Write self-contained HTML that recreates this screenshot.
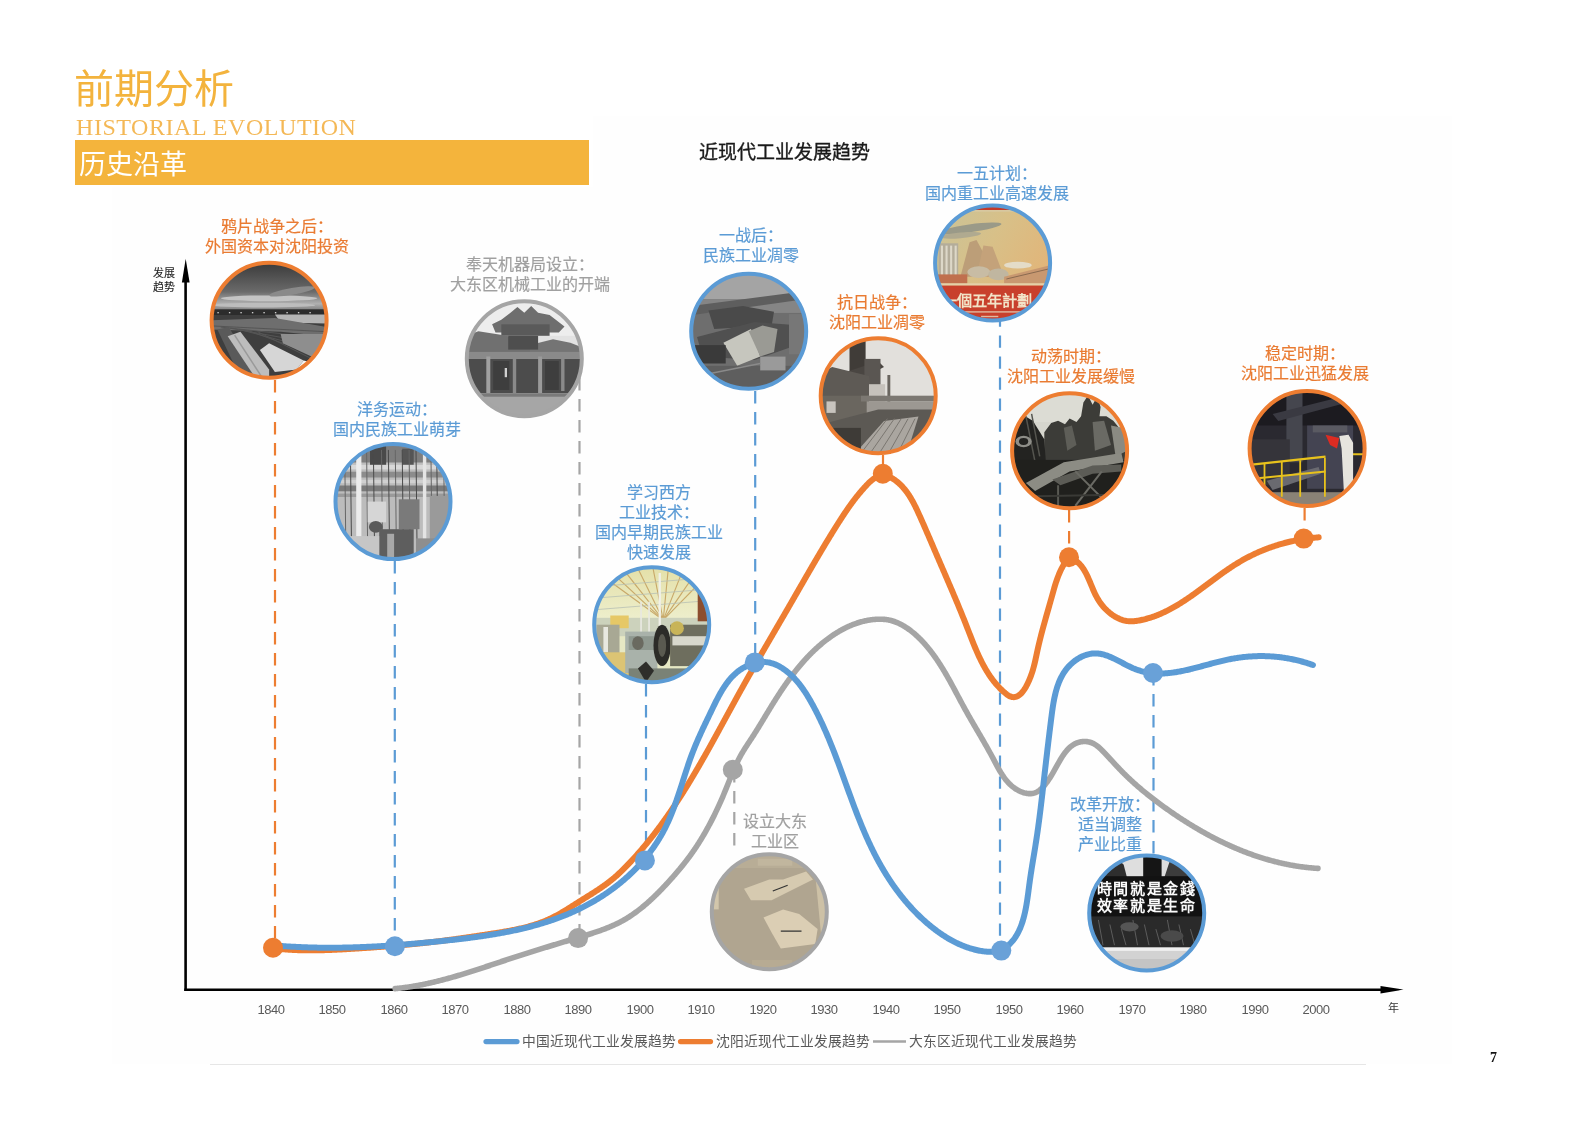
<!DOCTYPE html>
<html lang="zh-CN"><head><meta charset="utf-8"><title>历史沿革</title>
<style>
html,body{margin:0;padding:0;background:#fff;}
body{width:1587px;height:1122px;position:relative;overflow:hidden;font-family:"Liberation Sans",sans-serif;}
.a{position:absolute;white-space:nowrap;will-change:transform;}
svg text{font-family:"Liberation Sans",sans-serif;}
.lbl{position:absolute;will-change:transform;white-space:nowrap;font-size:16px;-webkit-text-stroke:0.2px currentColor;line-height:20px;text-align:center;width:240px;}
.yr{position:absolute;will-change:transform;top:999.5px;width:40px;text-align:center;font-size:13px;letter-spacing:-0.45px;color:#595959;line-height:20px;}
</style></head><body>

<div class="a" style="left:593px;top:116px;width:859px;height:948px;background:#fefefe"></div><div class="a" style="left:112px;top:187px;width:481px;height:877px;background:#fefefe"></div>
<div class="a" style="left:74.3px;top:62px;font-size:40px;line-height:54px;color:#F3B33D;font-weight:300;">前期分析</div>
<div class="a" style="left:75.5px;top:112.5px;font-family:'Liberation Serif',serif;font-size:24px;letter-spacing:0.55px;line-height:28px;color:#F4B856;">HISTORIAL EVOLUTION</div>
<div class="a" style="left:75px;top:140px;width:514px;height:45px;background:#F4B43C;"></div>
<div class="a" style="left:79.3px;top:147px;font-size:27px;line-height:36px;color:#fff;font-weight:300;">历史沿革</div>
<div class="a" style="left:699px;top:140px;font-size:19px;line-height:26px;color:#1a1a1a;-webkit-text-stroke:0.35px #1a1a1a;">近现代工业发展趋势</div>
<svg class="a" style="left:0;top:0" width="1587" height="1122" viewBox="0 0 1587 1122">
<defs>
<linearGradient id="g_rail_sky" x1="0" y1="0" x2="0" y2="1"><stop offset="0" stop-color="#3a3a3a"/><stop offset="0.6" stop-color="#6a6a6a"/><stop offset="0.85" stop-color="#b0b0b0"/><stop offset="1" stop-color="#777"/></linearGradient>
<linearGradient id="g_color_top" x1="0" y1="0" x2="0" y2="1"><stop offset="0" stop-color="#e4e0a8"/><stop offset="1" stop-color="#eef0d0"/></linearGradient>
<linearGradient id="g_poster_sky" x1="0" y1="0" x2="1" y2="0.6"><stop offset="0" stop-color="#c8c49a"/><stop offset="0.5" stop-color="#d8c088"/><stop offset="1" stop-color="#e2b478"/></linearGradient>
<clipPath id="cp0"><circle cx="269.1" cy="320.2" r="57.5"/></clipPath>
<clipPath id="cp1"><circle cx="393.0" cy="501.6" r="57.5"/></clipPath>
<clipPath id="cp2"><circle cx="524.3" cy="358.8" r="57.5"/></clipPath>
<clipPath id="cp3"><circle cx="651.7" cy="624.7" r="57.5"/></clipPath>
<clipPath id="cp4"><circle cx="748.7" cy="331.3" r="57.5"/></clipPath>
<clipPath id="cp5"><circle cx="769.3" cy="911.7" r="57.5"/></clipPath>
<clipPath id="cp6"><circle cx="878.2" cy="395.7" r="57.5"/></clipPath>
<clipPath id="cp7"><circle cx="992.6" cy="262.9" r="57.5"/></clipPath>
<clipPath id="cp8"><circle cx="1069.6" cy="450.7" r="57.5"/></clipPath>
<clipPath id="cp9"><circle cx="1146.7" cy="913.0" r="57.5"/></clipPath>
<clipPath id="cp10"><circle cx="1307.1" cy="448.5" r="57.5"/></clipPath>
</defs>
<line x1="185.6" y1="280" x2="185.6" y2="991" stroke="#000" stroke-width="2.6"/>
<polygon points="185.7,258.8 189.6,282.5 181.9,282.5" fill="#000"/>
<line x1="184.3" y1="989.8" x2="1385" y2="989.8" stroke="#000" stroke-width="2.5"/>
<polygon points="1403.5,989.6 1380.5,985.9 1380.5,993.6" fill="#000"/>
<line x1="275.0" y1="380.0" x2="275.0" y2="946.0" stroke="#ED7D31" stroke-width="2.2" stroke-dasharray="12.4 8.6"/>
<line x1="394.8" y1="561.0" x2="394.8" y2="946.0" stroke="#5B9BD5" stroke-width="2.2" stroke-dasharray="12.4 8.6"/>
<line x1="579.5" y1="378.0" x2="579.5" y2="938.0" stroke="#A5A5A5" stroke-width="2.2" stroke-dasharray="12.4 8.6"/>
<line x1="646.0" y1="684.0" x2="646.0" y2="860.0" stroke="#5B9BD5" stroke-width="2.2" stroke-dasharray="12.4 8.6"/>
<line x1="755.2" y1="391.0" x2="755.2" y2="662.0" stroke="#5B9BD5" stroke-width="2.2" stroke-dasharray="12.4 8.6"/>
<line x1="734.3" y1="770.0" x2="734.3" y2="853.0" stroke="#A5A5A5" stroke-width="2.2" stroke-dasharray="12.4 8.6"/>
<line x1="883.0" y1="455.0" x2="883.0" y2="474.0" stroke="#ED7D31" stroke-width="2.2" stroke-dasharray="12.4 8.6"/>
<line x1="1000.0" y1="314.4" x2="1000.0" y2="951.0" stroke="#5B9BD5" stroke-width="2.2" stroke-dasharray="12.4 8.6"/>
<line x1="1069.1" y1="510.0" x2="1069.1" y2="557.0" stroke="#ED7D31" stroke-width="2.2" stroke-dasharray="12.4 8.6"/>
<line x1="1153.5" y1="673.0" x2="1153.5" y2="854.0" stroke="#5B9BD5" stroke-width="2.2" stroke-dasharray="12.4 8.6"/>
<line x1="1304.6" y1="508.0" x2="1304.6" y2="539.0" stroke="#ED7D31" stroke-width="2.2" stroke-dasharray="12.4 8.6"/>
<path d="M395.07,988.64 L395.90,988.56 L396.73,988.48 L397.55,988.39 L398.38,988.31 L399.21,988.22 L400.03,988.12 L400.86,988.03 L401.68,987.93 L402.51,987.83 L403.33,987.72 L404.16,987.62 L404.98,987.51 L405.80,987.39 L406.62,987.28 L407.44,987.16 L408.26,987.04 L409.08,986.92 L409.90,986.79 L410.72,986.67 L411.54,986.54 L412.35,986.40 L413.17,986.27 L413.99,986.13 L414.80,985.99 L415.62,985.85 L416.43,985.71 L417.25,985.56 L418.06,985.41 L418.87,985.26 L419.68,985.10 L420.50,984.95 L421.31,984.79 L422.12,984.63 L422.93,984.47 L423.74,984.30 L424.55,984.14 L425.36,983.97 L426.17,983.80 L426.97,983.62 L427.78,983.45 L428.59,983.27 L429.40,983.09 L430.20,982.91 L431.01,982.73 L431.81,982.55 L432.62,982.36 L433.42,982.17 L434.23,981.98 L435.03,981.79 L435.83,981.60 L436.64,981.40 L437.44,981.20 L438.24,981.00 L439.04,980.80 L439.84,980.60 L440.64,980.40 L441.44,980.19 L442.24,979.98 L443.04,979.77 L443.84,979.56 L444.64,979.35 L445.44,979.14 L446.24,978.92 L447.04,978.71 L447.83,978.49 L448.63,978.27 L449.43,978.05 L450.22,977.83 L451.02,977.60 L451.82,977.38 L452.61,977.15 L453.41,976.92 L454.20,976.70 L455.00,976.47 L455.79,976.23 L456.58,976.00 L457.38,975.77 L458.17,975.53 L458.96,975.30 L459.76,975.06 L460.55,974.82 L461.34,974.58 L462.13,974.34 L462.93,974.10 L463.72,973.86 L464.51,973.62 L465.30,973.37 L466.09,973.13 L466.88,972.88 L467.67,972.64 L468.46,972.39 L469.25,972.14 L470.04,971.89 L470.83,971.64 L471.62,971.39 L472.41,971.14 L473.20,970.89 L473.99,970.63 L474.78,970.38 L475.56,970.13 L476.35,969.87 L477.14,969.62 L477.93,969.36 L478.72,969.10 L479.50,968.85 L480.29,968.59 L481.08,968.33 L481.87,968.07 L482.65,967.81 L483.44,967.55 L484.23,967.30 L485.01,967.04 L485.80,966.77 L486.59,966.51 L487.37,966.25 L488.16,965.99 L488.94,965.73 L489.73,965.47 L490.52,965.21 L491.30,964.94 L492.09,964.68 L492.87,964.42 L493.66,964.16 L494.45,963.89 L495.23,963.63 L496.02,963.37 L496.80,963.11 L497.59,962.84 L498.37,962.58 L499.16,962.32 L499.94,962.06 L500.73,961.79 L501.51,961.53 L502.30,961.27 L503.08,961.01 L503.87,960.74 L504.66,960.48 L505.44,960.22 L506.23,959.96 L507.01,959.70 L507.80,959.44 L508.58,959.18 L509.37,958.92 L510.15,958.66 L510.94,958.40 L511.72,958.14 L512.51,957.88 L513.30,957.62 L514.08,957.37 L514.87,957.11 L515.65,956.85 L516.44,956.60 L517.22,956.34 L518.01,956.09 L518.80,955.83 L519.58,955.58 L520.37,955.33 L521.16,955.07 L521.94,954.82 L522.73,954.57 L523.52,954.32 L524.30,954.07 L525.09,953.82 L525.88,953.57 L526.66,953.32 L527.45,953.07 L528.24,952.82 L529.02,952.57 L529.81,952.32 L530.60,952.08 L531.39,951.83 L532.17,951.58 L532.96,951.34 L533.75,951.09 L534.54,950.84 L535.33,950.60 L536.11,950.35 L536.90,950.11 L537.69,949.87 L538.48,949.62 L539.27,949.38 L540.06,949.14 L540.85,948.89 L541.64,948.65 L542.42,948.41 L543.21,948.17 L544.00,947.92 L544.79,947.68 L545.58,947.44 L546.37,947.20 L547.16,946.96 L547.95,946.72 L548.74,946.48 L549.53,946.24 L550.32,946.00 L551.11,945.76 L551.90,945.52 L552.70,945.28 L553.49,945.04 L554.28,944.80 L555.07,944.56 L555.86,944.32 L556.65,944.08 L557.44,943.84 L558.24,943.60 L559.03,943.36 L559.82,943.12 L560.61,942.89 L561.40,942.65 L562.20,942.41 L562.99,942.17 L563.78,941.93 L564.58,941.69 L565.37,941.45 L566.16,941.22 L566.96,940.98 L567.75,940.74 L568.54,940.50 L569.34,940.26 L570.13,940.02 L570.93,939.79 L571.72,939.55 L572.52,939.31 L573.31,939.07 L574.11,938.83 L574.90,938.59 L575.70,938.35 L576.49,938.11 L577.29,937.88 L578.08,937.64 L578.88,937.40 L579.68,937.16 L580.47,936.92 L581.27,936.68 L582.06,936.44 L582.86,936.20 L583.66,935.95 L584.45,935.71 L585.25,935.47 L586.04,935.22 L586.84,934.98 L587.63,934.73 L588.43,934.48 L589.22,934.23 L590.01,933.98 L590.81,933.73 L591.60,933.47 L592.39,933.22 L593.18,932.96 L593.97,932.70 L594.76,932.44 L595.54,932.18 L596.33,931.91 L597.12,931.65 L597.90,931.38 L598.68,931.10 L599.47,930.83 L600.25,930.55 L601.03,930.27 L601.80,929.99 L602.58,929.70 L603.36,929.42 L604.13,929.12 L604.90,928.83 L605.67,928.53 L606.44,928.23 L607.21,927.93 L607.98,927.62 L608.74,927.31 L609.50,926.99 L610.26,926.67 L611.02,926.35 L611.77,926.02 L612.53,925.69 L613.28,925.36 L614.03,925.02 L614.78,924.68 L615.52,924.33 L616.26,923.98 L617.00,923.62 L617.74,923.26 L618.48,922.89 L619.21,922.52 L619.94,922.15 L620.67,921.77 L621.39,921.38 L622.11,920.99 L622.83,920.59 L623.55,920.19 L624.26,919.79 L624.97,919.37 L625.68,918.96 L626.39,918.53 L627.09,918.11 L627.79,917.67 L628.49,917.24 L629.18,916.80 L629.87,916.35 L630.56,915.90 L631.25,915.44 L631.93,914.98 L632.61,914.52 L633.29,914.05 L633.96,913.57 L634.64,913.10 L635.31,912.61 L635.97,912.13 L636.64,911.64 L637.30,911.14 L637.96,910.64 L638.62,910.14 L639.28,909.64 L639.93,909.13 L640.58,908.61 L641.23,908.09 L641.87,907.57 L642.52,907.05 L643.16,906.52 L643.80,905.99 L644.43,905.46 L645.07,904.92 L645.70,904.38 L646.33,903.84 L646.96,903.29 L647.58,902.74 L648.21,902.19 L648.83,901.63 L649.45,901.07 L650.06,900.51 L650.68,899.95 L651.29,899.38 L651.90,898.81 L652.51,898.24 L653.11,897.67 L653.72,897.09 L654.32,896.52 L654.92,895.94 L655.52,895.36 L656.11,894.77 L656.71,894.19 L657.30,893.60 L657.89,893.01 L658.48,892.42 L659.07,891.82 L659.65,891.23 L660.23,890.63 L660.81,890.03 L661.39,889.44 L661.97,888.83 L662.55,888.23 L663.12,887.63 L663.69,887.03 L664.26,886.42 L664.83,885.81 L665.40,885.21 L665.97,884.60 L666.53,883.99 L667.09,883.38 L667.65,882.77 L668.21,882.16 L668.77,881.55 L669.33,880.93 L669.88,880.32 L670.43,879.71 L670.99,879.09 L671.54,878.48 L672.08,877.86 L672.63,877.25 L673.17,876.63 L673.72,876.01 L674.26,875.39 L674.80,874.78 L675.34,874.16 L675.87,873.53 L676.41,872.91 L676.94,872.29 L677.47,871.67 L678.00,871.04 L678.53,870.42 L679.06,869.79 L679.58,869.16 L680.10,868.53 L680.62,867.90 L681.14,867.27 L681.66,866.64 L682.17,866.00 L682.69,865.36 L683.20,864.73 L683.71,864.09 L684.21,863.45 L684.72,862.81 L685.22,862.16 L685.73,861.52 L686.22,860.87 L686.72,860.23 L687.22,859.58 L687.71,858.93 L688.20,858.27 L688.69,857.62 L689.18,856.96 L689.67,856.30 L690.15,855.64 L690.63,854.98 L691.11,854.32 L691.59,853.65 L692.06,852.98 L692.53,852.31 L693.00,851.64 L693.47,850.97 L693.94,850.29 L694.40,849.61 L694.86,848.93 L695.32,848.25 L695.78,847.57 L696.24,846.88 L696.69,846.19 L697.14,845.50 L697.59,844.81 L698.04,844.12 L698.48,843.42 L698.93,842.73 L699.37,842.03 L699.81,841.33 L700.24,840.62 L700.68,839.92 L701.11,839.22 L701.54,838.51 L701.97,837.80 L702.40,837.09 L702.82,836.38 L703.24,835.66 L703.66,834.95 L704.08,834.23 L704.50,833.51 L704.91,832.79 L705.33,832.07 L705.74,831.35 L706.15,830.62 L706.55,829.90 L706.96,829.17 L707.36,828.45 L707.76,827.72 L708.16,826.99 L708.56,826.25 L708.95,825.52 L709.34,824.79 L709.74,824.05 L710.13,823.32 L710.51,822.58 L710.90,821.84 L711.28,821.10 L711.66,820.36 L712.04,819.62 L712.42,818.88 L712.80,818.13 L713.17,817.39 L713.55,816.64 L713.92,815.90 L714.29,815.15 L714.65,814.40 L715.02,813.65 L715.38,812.90 L715.74,812.15 L716.10,811.40 L716.46,810.65 L716.82,809.90 L717.17,809.14 L717.53,808.39 L717.88,807.63 L718.23,806.88 L718.58,806.12 L718.92,805.37 L719.27,804.61 L719.61,803.85 L719.95,803.10 L720.29,802.34 L720.63,801.58 L720.96,800.82 L721.30,800.06 L721.63,799.30 L721.96,798.54 L722.29,797.78 L722.62,797.02 L722.95,796.26 L723.27,795.50 L723.59,794.74 L723.91,793.97 L724.23,793.21 L724.55,792.45 L724.87,791.69 L725.18,790.93 L725.50,790.16 L725.81,789.40 L726.12,788.64 L726.43,787.88 L726.74,787.12 L727.04,786.35 L727.35,785.59 L727.66,784.83 L727.96,784.07 L728.27,783.31 L728.57,782.55 L728.88,781.79 L729.18,781.03 L729.49,780.27 L729.79,779.51 L730.10,778.75 L730.41,777.99 L730.71,777.23 L731.02,776.48 L731.33,775.72 L731.64,774.96 L731.95,774.21 L732.27,773.45 L732.58,772.70 L732.90,771.95 L733.22,771.20 L733.54,770.45 L733.87,769.70 L734.19,768.95 L734.52,768.20 L734.85,767.45 L735.19,766.70 L735.53,765.96 L735.87,765.22 L736.21,764.47 L736.56,763.73 L736.91,762.99 L737.26,762.25 L737.62,761.52 L737.99,760.78 L738.35,760.04 L738.72,759.31 L739.10,758.58 L739.48,757.85 L739.87,757.12 L740.26,756.39 L740.65,755.67 L741.05,754.94 L741.46,754.22 L741.87,753.50 L742.29,752.78 L742.71,752.07 L743.14,751.35 L743.57,750.64 L744.01,749.93 L744.45,749.22 L744.90,748.51 L745.35,747.80 L745.80,747.09 L746.25,746.39 L746.71,745.68 L747.17,744.98 L747.63,744.27 L748.09,743.57 L748.56,742.87 L749.02,742.17 L749.48,741.47 L749.95,740.77 L750.41,740.07 L750.87,739.37 L751.33,738.67 L751.79,737.97 L752.25,737.27 L752.70,736.57 L753.15,735.87 L753.60,735.17 L754.05,734.47 L754.50,733.77 L754.94,733.08 L755.38,732.38 L755.82,731.68 L756.26,730.98 L756.70,730.28 L757.14,729.58 L757.57,728.88 L758.00,728.18 L758.44,727.48 L758.87,726.78 L759.30,726.08 L759.73,725.38 L760.15,724.68 L760.58,723.98 L761.01,723.28 L761.43,722.58 L761.86,721.88 L762.28,721.18 L762.71,720.48 L763.13,719.78 L763.55,719.08 L763.98,718.38 L764.40,717.68 L764.82,716.98 L765.24,716.28 L765.67,715.58 L766.09,714.88 L766.51,714.18 L766.93,713.48 L767.36,712.78 L767.78,712.08 L768.20,711.38 L768.63,710.68 L769.05,709.98 L769.48,709.28 L769.90,708.58 L770.33,707.88 L770.76,707.18 L771.19,706.48 L771.62,705.78 L772.05,705.08 L772.48,704.38 L772.92,703.68 L773.35,702.98 L773.79,702.29 L774.23,701.59 L774.67,700.89 L775.11,700.19 L775.55,699.49 L775.99,698.79 L776.44,698.09 L776.88,697.40 L777.33,696.70 L777.78,696.00 L778.23,695.31 L778.69,694.61 L779.14,693.91 L779.60,693.22 L780.05,692.53 L780.51,691.83 L780.97,691.14 L781.44,690.45 L781.90,689.76 L782.37,689.07 L782.83,688.38 L783.30,687.69 L783.77,687.00 L784.25,686.31 L784.72,685.63 L785.20,684.94 L785.67,684.26 L786.15,683.58 L786.64,682.89 L787.12,682.21 L787.60,681.54 L788.09,680.86 L788.58,680.18 L789.07,679.51 L789.56,678.83 L790.06,678.16 L790.56,677.49 L791.06,676.82 L791.56,676.15 L792.06,675.49 L792.56,674.82 L793.07,674.16 L793.58,673.50 L794.09,672.84 L794.60,672.18 L795.12,671.52 L795.63,670.87 L796.15,670.22 L796.68,669.57 L797.20,668.92 L797.72,668.27 L798.25,667.63 L798.78,666.99 L799.31,666.35 L799.85,665.71 L800.39,665.07 L800.92,664.44 L801.47,663.81 L802.01,663.18 L802.56,662.55 L803.10,661.93 L803.65,661.31 L804.21,660.69 L804.76,660.07 L805.32,659.46 L805.88,658.85 L806.44,658.24 L807.01,657.63 L807.57,657.03 L808.14,656.43 L808.72,655.83 L809.29,655.24 L809.87,654.64 L810.45,654.06 L811.03,653.47 L811.61,652.89 L812.20,652.31 L812.79,651.73 L813.38,651.15 L813.98,650.58 L814.58,650.02 L815.18,649.45 L815.78,648.89 L816.39,648.33 L816.99,647.78 L817.61,647.23 L818.22,646.68 L818.84,646.13 L819.45,645.59 L820.08,645.05 L820.70,644.52 L821.33,643.99 L821.96,643.46 L822.59,642.94 L823.23,642.42 L823.87,641.91 L824.51,641.39 L825.15,640.89 L825.80,640.38 L826.45,639.88 L827.11,639.39 L827.76,638.89 L828.42,638.40 L829.08,637.92 L829.75,637.44 L830.42,636.97 L831.09,636.49 L831.76,636.03 L832.44,635.56 L833.12,635.10 L833.81,634.65 L834.49,634.20 L835.18,633.75 L835.87,633.31 L836.57,632.88 L837.27,632.45 L837.97,632.02 L838.68,631.60 L839.39,631.18 L840.10,630.77 L840.81,630.37 L841.53,629.97 L842.25,629.58 L842.97,629.19 L843.70,628.80 L844.43,628.43 L845.16,628.06 L845.90,627.69 L846.64,627.33 L847.38,626.98 L848.12,626.64 L848.87,626.30 L849.62,625.96 L850.38,625.64 L851.14,625.32 L851.90,625.00 L852.66,624.70 L853.43,624.40 L854.20,624.11 L854.97,623.82 L855.75,623.55 L856.52,623.28 L857.31,623.01 L858.09,622.76 L858.88,622.51 L859.67,622.27 L860.47,622.04 L861.26,621.82 L862.06,621.61 L862.87,621.40 L863.68,621.20 L864.49,621.01 L865.30,620.83 L866.11,620.66 L866.93,620.49 L867.76,620.34 L868.58,620.19 L869.41,620.05 L870.24,619.92 L871.08,619.80 L871.91,619.69 L872.75,619.59 L873.59,619.50 L874.44,619.42 L875.28,619.36 L876.13,619.30 L876.97,619.25 L877.82,619.22 L878.66,619.20 L879.51,619.19 L880.35,619.19 L881.19,619.21 L882.04,619.23 L882.87,619.28 L883.71,619.33 L884.54,619.41 L885.37,619.49 L886.20,619.59 L887.02,619.71 L887.83,619.84 L888.65,619.99 L889.45,620.15 L890.25,620.33 L891.05,620.53 L891.84,620.74 L892.62,620.97 L893.40,621.21 L894.18,621.47 L894.94,621.74 L895.71,622.03 L896.46,622.33 L897.22,622.64 L897.96,622.97 L898.70,623.30 L899.44,623.65 L900.17,624.02 L900.90,624.39 L901.62,624.77 L902.33,625.17 L903.04,625.57 L903.75,625.99 L904.45,626.41 L905.15,626.84 L905.84,627.29 L906.52,627.74 L907.21,628.20 L907.88,628.66 L908.55,629.14 L909.22,629.62 L909.88,630.10 L910.54,630.60 L911.19,631.10 L911.84,631.61 L912.48,632.12 L913.12,632.64 L913.76,633.17 L914.39,633.71 L915.01,634.24 L915.63,634.79 L916.25,635.34 L916.86,635.90 L917.47,636.46 L918.07,637.03 L918.67,637.60 L919.26,638.18 L919.85,638.76 L920.44,639.35 L921.02,639.94 L921.60,640.54 L922.17,641.14 L922.74,641.74 L923.30,642.35 L923.86,642.97 L924.42,643.58 L924.97,644.21 L925.52,644.83 L926.06,645.46 L926.60,646.09 L927.14,646.73 L927.67,647.36 L928.20,648.01 L928.72,648.65 L929.24,649.30 L929.76,649.95 L930.27,650.60 L930.78,651.25 L931.29,651.91 L931.79,652.57 L932.28,653.23 L932.78,653.90 L933.27,654.56 L933.76,655.23 L934.24,655.90 L934.72,656.58 L935.20,657.25 L935.67,657.93 L936.15,658.61 L936.61,659.29 L937.08,659.97 L937.54,660.66 L938.00,661.34 L938.46,662.03 L938.91,662.72 L939.36,663.42 L939.81,664.11 L940.26,664.81 L940.70,665.50 L941.14,666.20 L941.58,666.90 L942.01,667.61 L942.45,668.31 L942.88,669.02 L943.31,669.72 L943.74,670.43 L944.16,671.14 L944.58,671.85 L945.01,672.56 L945.42,673.27 L945.84,673.99 L946.26,674.70 L946.67,675.42 L947.08,676.14 L947.49,676.85 L947.90,677.57 L948.31,678.29 L948.72,679.01 L949.12,679.74 L949.52,680.46 L949.93,681.18 L950.33,681.91 L950.73,682.63 L951.12,683.36 L951.52,684.08 L951.92,684.81 L952.31,685.54 L952.71,686.26 L953.10,686.99 L953.50,687.72 L953.89,688.45 L954.28,689.18 L954.67,689.91 L955.06,690.64 L955.45,691.37 L955.84,692.10 L956.23,692.83 L956.62,693.56 L957.01,694.29 L957.40,695.02 L957.79,695.75 L958.18,696.48 L958.57,697.21 L958.96,697.94 L959.35,698.67 L959.74,699.39 L960.12,700.12 L960.51,700.85 L960.90,701.58 L961.30,702.31 L961.69,703.04 L962.08,703.76 L962.47,704.49 L962.86,705.21 L963.26,705.94 L963.65,706.66 L964.05,707.39 L964.44,708.11 L964.84,708.83 L965.24,709.55 L965.64,710.28 L966.04,710.99 L966.44,711.71 L966.84,712.43 L967.24,713.15 L967.65,713.87 L968.05,714.58 L968.46,715.30 L968.86,716.01 L969.27,716.73 L969.68,717.44 L970.09,718.15 L970.50,718.87 L970.91,719.58 L971.32,720.29 L971.73,721.00 L972.14,721.72 L972.55,722.43 L972.97,723.14 L973.38,723.85 L973.79,724.56 L974.21,725.27 L974.62,725.98 L975.04,726.69 L975.45,727.40 L975.87,728.11 L976.28,728.82 L976.70,729.53 L977.11,730.24 L977.53,730.95 L977.94,731.66 L978.36,732.38 L978.78,733.09 L979.19,733.80 L979.61,734.51 L980.02,735.22 L980.44,735.94 L980.85,736.65 L981.27,737.36 L981.68,738.08 L982.10,738.79 L982.51,739.51 L982.93,740.22 L983.34,740.94 L983.75,741.65 L984.17,742.37 L984.58,743.09 L984.99,743.81 L985.40,744.53 L985.81,745.25 L986.22,745.97 L986.63,746.70 L987.04,747.42 L987.45,748.14 L987.86,748.87 L988.26,749.60 L988.67,750.32 L989.08,751.05 L989.48,751.78 L989.88,752.51 L990.28,753.25 L990.69,753.98 L991.09,754.72 L991.49,755.45 L991.88,756.19 L992.28,756.93 L992.68,757.67 L993.07,758.41 L993.47,759.16 L993.86,759.90 L994.25,760.65 L994.64,761.39 L995.03,762.14 L995.43,762.89 L995.82,763.63 L996.22,764.38 L996.61,765.12 L997.01,765.86 L997.41,766.60 L997.81,767.34 L998.22,768.08 L998.63,768.81 L999.04,769.54 L999.46,770.27 L999.88,770.99 L1000.31,771.71 L1000.74,772.42 L1001.17,773.13 L1001.62,773.84 L1002.07,774.54 L1002.52,775.23 L1002.98,775.92 L1003.45,776.60 L1003.93,777.27 L1004.41,777.94 L1004.91,778.59 L1005.41,779.25 L1005.92,779.89 L1006.44,780.52 L1006.97,781.15 L1007.51,781.77 L1008.05,782.37 L1008.61,782.97 L1009.19,783.56 L1009.77,784.13 L1010.36,784.70 L1010.97,785.25 L1011.59,785.80 L1012.22,786.33 L1012.87,786.85 L1013.52,787.35 L1014.20,787.85 L1014.88,788.33 L1015.58,788.79 L1016.30,789.25 L1017.02,789.68 L1017.76,790.10 L1018.50,790.50 L1019.26,790.88 L1020.02,791.24 L1020.79,791.58 L1021.57,791.90 L1022.35,792.20 L1023.13,792.47 L1023.92,792.71 L1024.71,792.93 L1025.50,793.12 L1026.30,793.28 L1027.09,793.42 L1027.88,793.52 L1028.66,793.59 L1029.45,793.63 L1030.23,793.63 L1031.00,793.60 L1031.77,793.54 L1032.53,793.43 L1033.28,793.29 L1034.02,793.12 L1034.75,792.90 L1035.47,792.64 L1036.18,792.33 L1036.87,791.99 L1037.56,791.61 L1038.23,791.19 L1038.88,790.74 L1039.53,790.26 L1040.17,789.75 L1040.79,789.22 L1041.40,788.66 L1042.00,788.08 L1042.59,787.47 L1043.17,786.86 L1043.73,786.22 L1044.29,785.58 L1044.83,784.92 L1045.37,784.26 L1045.89,783.59 L1046.40,782.92 L1046.90,782.24 L1047.40,781.57 L1047.88,780.89 L1048.36,780.20 L1048.83,779.51 L1049.29,778.82 L1049.74,778.13 L1050.19,777.43 L1050.63,776.73 L1051.07,776.02 L1051.50,775.31 L1051.93,774.60 L1052.36,773.88 L1052.78,773.15 L1053.20,772.43 L1053.62,771.69 L1054.04,770.96 L1054.46,770.21 L1054.87,769.47 L1055.29,768.72 L1055.71,767.96 L1056.13,767.20 L1056.55,766.43 L1056.97,765.66 L1057.40,764.89 L1057.83,764.12 L1058.26,763.35 L1058.70,762.58 L1059.14,761.81 L1059.58,761.04 L1060.03,760.27 L1060.48,759.51 L1060.93,758.76 L1061.40,758.01 L1061.86,757.26 L1062.34,756.53 L1062.82,755.80 L1063.30,755.08 L1063.80,754.37 L1064.30,753.67 L1064.80,752.98 L1065.32,752.30 L1065.84,751.64 L1066.38,750.99 L1066.92,750.35 L1067.47,749.73 L1068.03,749.13 L1068.60,748.55 L1069.18,747.98 L1069.77,747.43 L1070.37,746.90 L1070.99,746.39 L1071.61,745.91 L1072.25,745.44 L1072.90,745.00 L1073.56,744.58 L1074.23,744.19 L1074.92,743.82 L1075.62,743.48 L1076.33,743.16 L1077.05,742.88 L1077.78,742.61 L1078.52,742.38 L1079.27,742.17 L1080.02,741.99 L1080.78,741.84 L1081.55,741.71 L1082.32,741.61 L1083.09,741.55 L1083.86,741.51 L1084.64,741.50 L1085.42,741.51 L1086.19,741.56 L1086.97,741.64 L1087.74,741.75 L1088.51,741.88 L1089.27,742.05 L1090.03,742.25 L1090.79,742.48 L1091.53,742.74 L1092.27,743.03 L1093.00,743.35 L1093.72,743.71 L1094.43,744.10 L1095.13,744.51 L1095.81,744.96 L1096.49,745.43 L1097.16,745.93 L1097.82,746.45 L1098.47,746.99 L1099.11,747.55 L1099.74,748.13 L1100.37,748.71 L1100.99,749.31 L1101.61,749.92 L1102.22,750.54 L1102.83,751.15 L1103.43,751.78 L1104.03,752.40 L1104.63,753.02 L1105.22,753.64 L1105.81,754.27 L1106.39,754.89 L1106.98,755.51 L1107.56,756.13 L1108.14,756.75 L1108.71,757.37 L1109.29,757.99 L1109.86,758.61 L1110.43,759.23 L1111.00,759.85 L1111.57,760.47 L1112.14,761.09 L1112.71,761.70 L1113.27,762.32 L1113.84,762.93 L1114.40,763.55 L1114.97,764.16 L1115.53,764.77 L1116.10,765.38 L1116.67,765.99 L1117.23,766.59 L1117.80,767.20 L1118.37,767.80 L1118.94,768.40 L1119.51,769.00 L1120.08,769.59 L1120.65,770.19 L1121.23,770.78 L1121.80,771.37 L1122.38,771.96 L1122.96,772.55 L1123.54,773.13 L1124.13,773.71 L1124.71,774.29 L1125.30,774.87 L1125.89,775.45 L1126.48,776.02 L1127.08,776.60 L1127.67,777.17 L1128.27,777.73 L1128.86,778.30 L1129.46,778.87 L1130.07,779.43 L1130.67,779.99 L1131.27,780.55 L1131.88,781.10 L1132.49,781.66 L1133.10,782.21 L1133.71,782.76 L1134.32,783.31 L1134.94,783.86 L1135.55,784.41 L1136.17,784.95 L1136.79,785.50 L1137.41,786.04 L1138.03,786.58 L1138.65,787.11 L1139.28,787.65 L1139.90,788.18 L1140.53,788.72 L1141.16,789.25 L1141.79,789.78 L1142.42,790.30 L1143.06,790.83 L1143.69,791.36 L1144.33,791.88 L1144.96,792.40 L1145.60,792.92 L1146.24,793.44 L1146.88,793.96 L1147.53,794.47 L1148.17,794.99 L1148.82,795.50 L1149.46,796.01 L1150.11,796.52 L1150.76,797.03 L1151.41,797.54 L1152.06,798.04 L1152.71,798.55 L1153.37,799.05 L1154.02,799.55 L1154.68,800.05 L1155.33,800.55 L1155.99,801.05 L1156.65,801.55 L1157.31,802.04 L1157.97,802.54 L1158.63,803.03 L1159.30,803.52 L1159.96,804.01 L1160.63,804.50 L1161.29,804.99 L1161.96,805.48 L1162.63,805.97 L1163.30,806.45 L1163.97,806.94 L1164.64,807.42 L1165.31,807.90 L1165.99,808.38 L1166.66,808.86 L1167.34,809.34 L1168.01,809.82 L1168.69,810.29 L1169.37,810.77 L1170.05,811.24 L1170.73,811.72 L1171.41,812.19 L1172.09,812.66 L1172.77,813.13 L1173.45,813.60 L1174.14,814.06 L1174.82,814.53 L1175.51,814.99 L1176.20,815.46 L1176.89,815.92 L1177.58,816.38 L1178.27,816.84 L1178.96,817.29 L1179.65,817.75 L1180.34,818.21 L1181.03,818.66 L1181.73,819.11 L1182.42,819.56 L1183.12,820.01 L1183.82,820.46 L1184.52,820.91 L1185.22,821.36 L1185.92,821.80 L1186.62,822.24 L1187.32,822.68 L1188.02,823.12 L1188.73,823.56 L1189.43,824.00 L1190.14,824.43 L1190.84,824.87 L1191.55,825.30 L1192.26,825.73 L1192.97,826.16 L1193.68,826.59 L1194.39,827.02 L1195.10,827.44 L1195.81,827.87 L1196.53,828.29 L1197.24,828.71 L1197.96,829.13 L1198.67,829.54 L1199.39,829.96 L1200.11,830.37 L1200.83,830.79 L1201.55,831.20 L1202.27,831.61 L1202.99,832.01 L1203.71,832.42 L1204.44,832.82 L1205.16,833.23 L1205.89,833.63 L1206.61,834.03 L1207.34,834.42 L1208.07,834.82 L1208.79,835.21 L1209.52,835.60 L1210.25,836.00 L1210.99,836.38 L1211.72,836.77 L1212.45,837.16 L1213.18,837.54 L1213.92,837.92 L1214.65,838.30 L1215.39,838.68 L1216.13,839.05 L1216.87,839.43 L1217.61,839.80 L1218.34,840.17 L1219.09,840.54 L1219.83,840.91 L1220.57,841.27 L1221.31,841.63 L1222.06,841.99 L1222.80,842.35 L1223.55,842.71 L1224.29,843.07 L1225.04,843.42 L1225.79,843.77 L1226.54,844.12 L1227.29,844.47 L1228.04,844.81 L1228.79,845.15 L1229.54,845.50 L1230.30,845.84 L1231.05,846.17 L1231.81,846.51 L1232.56,846.84 L1233.32,847.17 L1234.08,847.50 L1234.83,847.83 L1235.59,848.15 L1236.35,848.47 L1237.11,848.79 L1237.88,849.11 L1238.64,849.43 L1239.40,849.74 L1240.17,850.05 L1240.93,850.36 L1241.70,850.67 L1242.46,850.98 L1243.23,851.28 L1244.00,851.58 L1244.77,851.88 L1245.54,852.18 L1246.31,852.47 L1247.08,852.76 L1247.85,853.05 L1248.62,853.34 L1249.40,853.62 L1250.17,853.91 L1250.95,854.19 L1251.72,854.47 L1252.50,854.74 L1253.28,855.02 L1254.06,855.29 L1254.84,855.56 L1255.62,855.82 L1256.40,856.09 L1257.18,856.35 L1257.96,856.61 L1258.74,856.86 L1259.53,857.12 L1260.31,857.37 L1261.10,857.62 L1261.88,857.87 L1262.67,858.11 L1263.46,858.35 L1264.25,858.59 L1265.04,858.83 L1265.83,859.07 L1266.62,859.30 L1267.41,859.53 L1268.20,859.75 L1269.00,859.98 L1269.79,860.20 L1270.59,860.42 L1271.38,860.64 L1272.18,860.85 L1272.97,861.06 L1273.77,861.27 L1274.57,861.48 L1275.37,861.68 L1276.17,861.88 L1276.97,862.08 L1277.77,862.28 L1278.58,862.47 L1279.38,862.66 L1280.18,862.85 L1280.99,863.04 L1281.79,863.22 L1282.60,863.40 L1283.41,863.58 L1284.21,863.75 L1285.02,863.92 L1285.83,864.09 L1286.64,864.26 L1287.45,864.42 L1288.26,864.58 L1289.08,864.74 L1289.89,864.89 L1290.70,865.05 L1291.52,865.19 L1292.33,865.34 L1293.15,865.49 L1293.96,865.63 L1294.78,865.76 L1295.60,865.90 L1296.42,866.03 L1297.24,866.16 L1298.06,866.29 L1298.88,866.41 L1299.70,866.53 L1300.52,866.65 L1301.35,866.76 L1302.17,866.87 L1302.99,866.98 L1303.82,867.09 L1304.65,867.19 L1305.47,867.29 L1306.30,867.39 L1307.13,867.48 L1307.96,867.57 L1308.79,867.66 L1309.62,867.74 L1310.45,867.83 L1311.28,867.90 L1312.11,867.98 L1312.94,868.05 L1313.78,868.12 L1314.61,868.19 L1315.45,868.25 L1316.28,868.31 L1317.12,868.37 L1317.96,868.42" fill="none" stroke="#A5A5A5" stroke-width="5.6" stroke-linecap="round"/>
<path d="M272.99,948.10 L274.03,948.24 L275.06,948.37 L276.10,948.50 L277.14,948.62 L278.18,948.73 L279.22,948.85 L280.26,948.95 L281.30,949.06 L282.34,949.15 L283.38,949.25 L284.42,949.34 L285.47,949.42 L286.51,949.51 L287.55,949.58 L288.59,949.66 L289.63,949.73 L290.67,949.79 L291.71,949.85 L292.75,949.91 L293.80,949.96 L294.84,950.01 L295.88,950.06 L296.92,950.10 L297.97,950.14 L299.01,950.18 L300.05,950.21 L301.09,950.24 L302.14,950.26 L303.18,950.28 L304.22,950.30 L305.26,950.32 L306.31,950.33 L307.35,950.34 L308.39,950.35 L309.44,950.35 L310.48,950.35 L311.52,950.35 L312.57,950.35 L313.61,950.34 L314.65,950.33 L315.70,950.32 L316.74,950.31 L317.79,950.29 L318.83,950.27 L319.87,950.25 L320.92,950.23 L321.96,950.20 L323.01,950.17 L324.05,950.14 L325.10,950.11 L326.14,950.08 L327.18,950.04 L328.23,950.00 L329.27,949.96 L330.32,949.92 L331.36,949.88 L332.41,949.84 L333.45,949.79 L334.50,949.74 L335.54,949.70 L336.58,949.65 L337.63,949.59 L338.67,949.54 L339.72,949.49 L340.76,949.44 L341.81,949.38 L342.85,949.32 L343.90,949.27 L344.94,949.21 L345.98,949.15 L347.03,949.09 L348.07,949.03 L349.12,948.97 L350.16,948.91 L351.21,948.85 L352.25,948.78 L353.30,948.72 L354.34,948.66 L355.38,948.59 L356.43,948.53 L357.47,948.47 L358.52,948.40 L359.56,948.34 L360.60,948.27 L361.65,948.20 L362.69,948.13 L363.74,948.07 L364.78,948.00 L365.82,947.93 L366.87,947.86 L367.91,947.79 L368.95,947.72 L370.00,947.65 L371.04,947.57 L372.08,947.50 L373.13,947.43 L374.17,947.35 L375.21,947.28 L376.26,947.20 L377.30,947.13 L378.34,947.05 L379.38,946.97 L380.43,946.90 L381.47,946.82 L382.51,946.74 L383.55,946.66 L384.60,946.58 L385.64,946.50 L386.68,946.42 L387.72,946.33 L388.76,946.25 L389.81,946.16 L390.85,946.08 L391.89,945.99 L392.93,945.91 L393.97,945.82 L395.01,945.73 L396.06,945.64 L397.10,945.55 L398.14,945.46 L399.18,945.37 L400.22,945.28 L401.26,945.19 L402.30,945.09 L403.34,945.00 L404.38,944.90 L405.42,944.81 L406.46,944.71 L407.50,944.61 L408.54,944.52 L409.58,944.42 L410.62,944.32 L411.66,944.21 L412.69,944.11 L413.73,944.01 L414.77,943.91 L415.81,943.80 L416.85,943.70 L417.89,943.59 L418.92,943.48 L419.96,943.37 L421.00,943.26 L422.04,943.15 L423.08,943.04 L424.11,942.93 L425.15,942.82 L426.19,942.70 L427.22,942.59 L428.26,942.47 L429.30,942.35 L430.33,942.24 L431.37,942.12 L432.40,942.00 L433.44,941.88 L434.47,941.75 L435.51,941.63 L436.54,941.51 L437.58,941.38 L438.61,941.26 L439.65,941.13 L440.68,941.00 L441.71,940.87 L442.75,940.74 L443.78,940.61 L444.81,940.48 L445.85,940.34 L446.88,940.21 L447.91,940.07 L448.95,939.94 L449.98,939.80 L451.01,939.66 L452.04,939.52 L453.08,939.38 L454.11,939.24 L455.14,939.10 L456.17,938.96 L457.21,938.81 L458.24,938.67 L459.27,938.52 L460.30,938.38 L461.34,938.23 L462.37,938.09 L463.40,937.94 L464.43,937.79 L465.46,937.64 L466.50,937.49 L467.53,937.34 L468.56,937.19 L469.60,937.04 L470.63,936.89 L471.66,936.73 L472.70,936.58 L473.73,936.43 L474.76,936.27 L475.80,936.12 L476.83,935.96 L477.86,935.81 L478.90,935.65 L479.93,935.49 L480.97,935.34 L482.00,935.18 L483.04,935.02 L484.07,934.86 L485.11,934.71 L486.15,934.55 L487.18,934.39 L488.22,934.23 L489.26,934.07 L490.30,933.91 L491.33,933.75 L492.37,933.59 L493.41,933.43 L494.45,933.27 L495.49,933.10 L496.53,932.94 L497.57,932.77 L498.60,932.61 L499.64,932.44 L500.68,932.27 L501.72,932.10 L502.76,931.93 L503.79,931.75 L504.83,931.58 L505.87,931.40 L506.90,931.21 L507.94,931.03 L508.97,930.84 L510.00,930.65 L511.04,930.46 L512.07,930.26 L513.10,930.06 L514.13,929.86 L515.15,929.65 L516.18,929.44 L517.21,929.22 L518.23,929.00 L519.25,928.78 L520.27,928.55 L521.29,928.32 L522.31,928.08 L523.33,927.83 L524.34,927.59 L525.35,927.33 L526.36,927.07 L527.37,926.81 L528.38,926.54 L529.38,926.26 L530.38,925.98 L531.38,925.69 L532.38,925.40 L533.38,925.09 L534.37,924.79 L535.36,924.47 L536.35,924.15 L537.33,923.82 L538.31,923.48 L539.29,923.14 L540.27,922.79 L541.24,922.43 L542.21,922.06 L543.18,921.69 L544.14,921.30 L545.10,920.91 L546.06,920.51 L547.02,920.10 L547.97,919.69 L548.92,919.26 L549.86,918.82 L550.80,918.38 L551.74,917.92 L552.67,917.46 L553.60,916.99 L554.53,916.51 L555.45,916.03 L556.38,915.53 L557.29,915.03 L558.21,914.53 L559.12,914.02 L560.03,913.50 L560.94,912.97 L561.85,912.44 L562.75,911.91 L563.66,911.37 L564.56,910.83 L565.46,910.28 L566.35,909.74 L567.25,909.18 L568.14,908.63 L569.04,908.07 L569.93,907.51 L570.82,906.95 L571.71,906.39 L572.60,905.83 L573.49,905.26 L574.38,904.70 L575.26,904.14 L576.15,903.57 L577.04,903.01 L577.93,902.45 L578.81,901.89 L579.70,901.33 L580.59,900.77 L581.47,900.22 L582.36,899.67 L583.25,899.11 L584.13,898.56 L585.02,898.01 L585.90,897.46 L586.79,896.91 L587.67,896.35 L588.55,895.80 L589.44,895.25 L590.32,894.70 L591.19,894.14 L592.07,893.59 L592.95,893.03 L593.82,892.47 L594.69,891.91 L595.56,891.35 L596.43,890.78 L597.30,890.21 L598.16,889.64 L599.02,889.07 L599.88,888.49 L600.74,887.91 L601.59,887.33 L602.44,886.74 L603.29,886.14 L604.13,885.55 L604.98,884.94 L605.81,884.34 L606.65,883.73 L607.48,883.11 L608.31,882.49 L609.13,881.86 L609.95,881.22 L610.77,880.58 L611.58,879.93 L612.39,879.28 L613.19,878.62 L613.99,877.95 L614.78,877.27 L615.57,876.59 L616.36,875.90 L617.14,875.20 L617.91,874.50 L618.68,873.78 L619.45,873.06 L620.21,872.34 L620.97,871.61 L621.73,870.88 L622.48,870.14 L623.23,869.39 L623.97,868.65 L624.71,867.90 L625.45,867.15 L626.19,866.39 L626.92,865.64 L627.65,864.88 L628.38,864.12 L629.10,863.36 L629.83,862.60 L630.55,861.83 L631.27,861.07 L631.98,860.30 L632.69,859.53 L633.40,858.76 L634.11,857.98 L634.82,857.21 L635.52,856.43 L636.22,855.65 L636.91,854.87 L637.61,854.09 L638.30,853.30 L638.99,852.52 L639.68,851.73 L640.36,850.94 L641.05,850.15 L641.73,849.35 L642.41,848.56 L643.08,847.76 L643.75,846.96 L644.43,846.16 L645.09,845.36 L645.76,844.56 L646.42,843.75 L647.09,842.95 L647.75,842.14 L648.40,841.33 L649.06,840.52 L649.71,839.71 L650.36,838.89 L651.01,838.08 L651.66,837.26 L652.30,836.44 L652.94,835.62 L653.58,834.80 L654.22,833.97 L654.86,833.15 L655.49,832.32 L656.12,831.49 L656.75,830.66 L657.38,829.83 L658.01,829.00 L658.63,828.17 L659.25,827.33 L659.87,826.50 L660.49,825.66 L661.11,824.82 L661.72,823.98 L662.34,823.14 L662.95,822.30 L663.56,821.45 L664.16,820.61 L664.77,819.76 L665.37,818.91 L665.97,818.06 L666.57,817.21 L667.17,816.36 L667.77,815.51 L668.36,814.65 L668.95,813.80 L669.55,812.94 L670.13,812.08 L670.72,811.22 L671.31,810.36 L671.89,809.50 L672.48,808.64 L673.06,807.77 L673.64,806.91 L674.22,806.04 L674.79,805.18 L675.37,804.31 L675.94,803.44 L676.51,802.57 L677.08,801.70 L677.65,800.82 L678.22,799.95 L678.79,799.08 L679.35,798.20 L679.91,797.33 L680.48,796.45 L681.04,795.57 L681.60,794.69 L682.15,793.81 L682.71,792.93 L683.27,792.05 L683.82,791.16 L684.37,790.28 L684.92,789.40 L685.47,788.51 L686.02,787.62 L686.57,786.74 L687.12,785.85 L687.66,784.96 L688.21,784.07 L688.75,783.18 L689.29,782.29 L689.83,781.39 L690.37,780.50 L690.91,779.61 L691.45,778.71 L691.98,777.82 L692.52,776.92 L693.05,776.02 L693.59,775.13 L694.12,774.23 L694.65,773.33 L695.18,772.43 L695.71,771.53 L696.24,770.63 L696.77,769.73 L697.29,768.83 L697.82,767.92 L698.34,767.02 L698.87,766.12 L699.39,765.21 L699.91,764.31 L700.43,763.40 L700.95,762.50 L701.47,761.59 L701.99,760.68 L702.51,759.77 L703.03,758.87 L703.54,757.96 L704.06,757.05 L704.58,756.14 L705.09,755.23 L705.61,754.32 L706.12,753.41 L706.63,752.50 L707.14,751.58 L707.65,750.67 L708.17,749.76 L708.68,748.85 L709.19,747.93 L709.70,747.02 L710.20,746.11 L710.71,745.19 L711.22,744.28 L711.73,743.36 L712.23,742.45 L712.74,741.53 L713.25,740.62 L713.75,739.70 L714.26,738.78 L714.76,737.87 L715.27,736.95 L715.77,736.03 L716.27,735.12 L716.78,734.20 L717.28,733.28 L717.78,732.36 L718.29,731.45 L718.79,730.53 L719.29,729.61 L719.79,728.69 L720.29,727.77 L720.80,726.86 L721.30,725.94 L721.80,725.02 L722.30,724.10 L722.80,723.18 L723.30,722.26 L723.80,721.34 L724.30,720.43 L724.80,719.51 L725.30,718.59 L725.80,717.67 L726.30,716.75 L726.80,715.83 L727.30,714.91 L727.80,714.00 L728.30,713.08 L728.80,712.16 L729.31,711.24 L729.81,710.32 L730.31,709.40 L730.81,708.49 L731.31,707.57 L731.81,706.65 L732.31,705.73 L732.81,704.82 L733.31,703.90 L733.82,702.98 L734.32,702.07 L734.82,701.15 L735.32,700.23 L735.83,699.32 L736.33,698.40 L736.83,697.49 L737.34,696.57 L737.84,695.66 L738.34,694.74 L738.85,693.83 L739.35,692.91 L739.86,692.00 L740.37,691.09 L740.87,690.17 L741.38,689.26 L741.89,688.35 L742.39,687.44 L742.90,686.53 L743.41,685.61 L743.92,684.70 L744.43,683.79 L744.94,682.88 L745.45,681.97 L745.96,681.07 L746.47,680.16 L746.98,679.25 L747.50,678.34 L748.01,677.43 L748.52,676.52 L749.04,675.62 L749.55,674.71 L750.06,673.80 L750.58,672.90 L751.09,671.99 L751.61,671.09 L752.12,670.18 L752.64,669.27 L753.16,668.37 L753.67,667.46 L754.19,666.56 L754.71,665.66 L755.22,664.75 L755.74,663.85 L756.26,662.94 L756.78,662.04 L757.30,661.14 L757.82,660.23 L758.34,659.33 L758.86,658.43 L759.38,657.52 L759.90,656.62 L760.42,655.72 L760.94,654.82 L761.46,653.91 L761.98,653.01 L762.50,652.11 L763.02,651.21 L763.54,650.31 L764.06,649.41 L764.59,648.50 L765.11,647.60 L765.63,646.70 L766.15,645.80 L766.68,644.90 L767.20,644.00 L767.72,643.10 L768.25,642.19 L768.77,641.29 L769.29,640.39 L769.82,639.49 L770.34,638.59 L770.86,637.69 L771.39,636.79 L771.91,635.89 L772.44,634.98 L772.96,634.08 L773.49,633.18 L774.01,632.28 L774.54,631.38 L775.06,630.48 L775.58,629.58 L776.11,628.68 L776.63,627.77 L777.16,626.87 L777.68,625.97 L778.21,625.07 L778.73,624.17 L779.26,623.26 L779.78,622.36 L780.31,621.46 L780.83,620.56 L781.36,619.65 L781.88,618.75 L782.41,617.85 L782.93,616.95 L783.46,616.04 L783.98,615.14 L784.51,614.23 L785.03,613.33 L785.56,612.43 L786.08,611.52 L786.61,610.62 L787.13,609.71 L787.66,608.81 L788.18,607.90 L788.71,607.00 L789.23,606.09 L789.75,605.19 L790.28,604.28 L790.80,603.37 L791.32,602.47 L791.85,601.56 L792.37,600.65 L792.89,599.74 L793.42,598.84 L793.94,597.93 L794.46,597.02 L794.99,596.11 L795.51,595.20 L796.03,594.29 L796.56,593.39 L797.08,592.48 L797.60,591.57 L798.12,590.66 L798.65,589.75 L799.17,588.84 L799.69,587.93 L800.22,587.02 L800.74,586.11 L801.26,585.20 L801.79,584.29 L802.31,583.39 L802.83,582.48 L803.36,581.57 L803.88,580.66 L804.40,579.75 L804.93,578.84 L805.45,577.93 L805.97,577.02 L806.50,576.11 L807.02,575.21 L807.55,574.30 L808.07,573.39 L808.60,572.48 L809.12,571.58 L809.65,570.67 L810.17,569.76 L810.70,568.86 L811.23,567.95 L811.75,567.04 L812.28,566.14 L812.81,565.23 L813.33,564.33 L813.86,563.43 L814.39,562.52 L814.92,561.62 L815.45,560.71 L815.98,559.81 L816.51,558.91 L817.04,558.01 L817.57,557.11 L818.10,556.21 L818.63,555.31 L819.16,554.41 L819.69,553.51 L820.22,552.61 L820.76,551.71 L821.29,550.81 L821.82,549.92 L822.36,549.02 L822.89,548.13 L823.43,547.23 L823.96,546.34 L824.50,545.44 L825.03,544.55 L825.57,543.66 L826.11,542.77 L826.65,541.88 L827.19,540.99 L827.73,540.10 L828.27,539.21 L828.81,538.33 L829.35,537.44 L829.89,536.55 L830.43,535.67 L830.98,534.79 L831.52,533.90 L832.06,533.02 L832.61,532.14 L833.15,531.26 L833.70,530.38 L834.25,529.50 L834.80,528.63 L835.34,527.75 L835.89,526.88 L836.44,526.00 L837.00,525.13 L837.55,524.26 L838.10,523.39 L838.65,522.52 L839.21,521.65 L839.76,520.78 L840.32,519.92 L840.88,519.05 L841.43,518.19 L842.00,517.32 L842.56,516.46 L843.12,515.60 L843.69,514.74 L844.26,513.88 L844.83,513.03 L845.41,512.17 L845.99,511.32 L846.57,510.46 L847.15,509.61 L847.74,508.76 L848.33,507.91 L848.93,507.06 L849.53,506.21 L850.13,505.36 L850.74,504.51 L851.36,503.67 L851.97,502.83 L852.60,501.98 L853.23,501.14 L853.86,500.30 L854.50,499.46 L855.15,498.62 L855.80,497.78 L856.46,496.95 L857.12,496.11 L857.79,495.28 L858.47,494.44 L859.16,493.61 L859.85,492.78 L860.55,491.95 L861.25,491.12 L861.97,490.29 L862.69,489.46 L863.42,488.64 L864.16,487.81 L864.90,486.99 L865.66,486.17 L866.42,485.35 L867.20,484.54 L867.98,483.74 L868.77,482.96 L869.56,482.20 L870.37,481.45 L871.19,480.74 L872.01,480.05 L872.84,479.40 L873.68,478.78 L874.53,478.20 L875.38,477.66 L876.25,477.17 L877.12,476.73 L878.00,476.34 L878.89,476.01 L879.78,475.73 L880.69,475.53 L881.60,475.39 L882.52,475.31 L883.45,475.32 L884.38,475.39 L885.32,475.54 L886.27,475.75 L887.21,476.02 L888.15,476.35 L889.09,476.73 L890.02,477.15 L890.95,477.62 L891.87,478.12 L892.77,478.66 L893.66,479.23 L894.54,479.81 L895.40,480.42 L896.24,481.05 L897.06,481.69 L897.86,482.35 L898.65,483.02 L899.42,483.72 L900.18,484.42 L900.92,485.14 L901.64,485.88 L902.35,486.62 L903.04,487.39 L903.72,488.16 L904.39,488.95 L905.04,489.75 L905.68,490.56 L906.31,491.38 L906.92,492.22 L907.52,493.06 L908.12,493.92 L908.70,494.78 L909.27,495.65 L909.83,496.54 L910.37,497.43 L910.92,498.33 L911.45,499.23 L911.97,500.14 L912.48,501.06 L912.99,501.99 L913.49,502.92 L913.98,503.86 L914.47,504.80 L914.94,505.75 L915.42,506.70 L915.88,507.66 L916.35,508.61 L916.81,509.57 L917.26,510.54 L917.71,511.50 L918.16,512.47 L918.60,513.44 L919.04,514.41 L919.48,515.38 L919.92,516.35 L920.35,517.31 L920.78,518.28 L921.22,519.25 L921.65,520.22 L922.08,521.19 L922.50,522.15 L922.93,523.12 L923.36,524.08 L923.78,525.05 L924.21,526.01 L924.63,526.98 L925.05,527.94 L925.47,528.91 L925.89,529.87 L926.31,530.83 L926.72,531.80 L927.14,532.76 L927.56,533.72 L927.97,534.68 L928.39,535.64 L928.80,536.60 L929.22,537.56 L929.63,538.52 L930.04,539.48 L930.45,540.44 L930.86,541.40 L931.27,542.36 L931.69,543.32 L932.10,544.28 L932.51,545.23 L932.92,546.19 L933.33,547.15 L933.74,548.11 L934.14,549.06 L934.55,550.02 L934.96,550.97 L935.37,551.93 L935.78,552.88 L936.19,553.84 L936.60,554.79 L937.01,555.75 L937.42,556.70 L937.83,557.65 L938.25,558.61 L938.66,559.56 L939.07,560.51 L939.48,561.46 L939.89,562.42 L940.30,563.37 L940.71,564.32 L941.12,565.27 L941.53,566.22 L941.94,567.18 L942.36,568.13 L942.77,569.08 L943.18,570.03 L943.59,570.98 L944.00,571.93 L944.41,572.89 L944.82,573.84 L945.23,574.79 L945.64,575.74 L946.05,576.69 L946.46,577.65 L946.87,578.60 L947.28,579.55 L947.69,580.50 L948.10,581.46 L948.51,582.41 L948.92,583.36 L949.33,584.32 L949.74,585.27 L950.15,586.23 L950.56,587.18 L950.96,588.14 L951.37,589.09 L951.78,590.05 L952.19,591.00 L952.59,591.96 L953.00,592.92 L953.40,593.87 L953.81,594.83 L954.21,595.79 L954.62,596.75 L955.02,597.71 L955.43,598.67 L955.83,599.63 L956.23,600.59 L956.64,601.55 L957.04,602.51 L957.44,603.47 L957.84,604.44 L958.24,605.40 L958.64,606.37 L959.04,607.33 L959.44,608.30 L959.84,609.27 L960.23,610.23 L960.63,611.20 L961.03,612.17 L961.42,613.14 L961.82,614.11 L962.21,615.08 L962.61,616.06 L963.00,617.03 L963.39,618.00 L963.78,618.98 L964.17,619.96 L964.56,620.93 L964.95,621.91 L965.34,622.89 L965.73,623.87 L966.12,624.85 L966.50,625.84 L966.89,626.82 L967.27,627.80 L967.66,628.79 L968.04,629.77 L968.42,630.76 L968.81,631.75 L969.19,632.74 L969.57,633.72 L969.96,634.71 L970.34,635.70 L970.73,636.69 L971.12,637.67 L971.50,638.66 L971.89,639.64 L972.28,640.63 L972.68,641.61 L973.07,642.60 L973.47,643.58 L973.87,644.56 L974.27,645.54 L974.67,646.51 L975.08,647.49 L975.49,648.46 L975.90,649.43 L976.32,650.40 L976.74,651.37 L977.16,652.33 L977.59,653.29 L978.02,654.25 L978.45,655.21 L978.89,656.16 L979.34,657.11 L979.79,658.06 L980.24,659.00 L980.70,659.94 L981.16,660.88 L981.63,661.81 L982.10,662.74 L982.58,663.66 L983.07,664.58 L983.56,665.50 L984.06,666.41 L984.57,667.32 L985.08,668.22 L985.59,669.12 L986.12,670.01 L986.65,670.89 L987.19,671.77 L987.74,672.65 L988.29,673.52 L988.85,674.38 L989.42,675.24 L990.00,676.09 L990.59,676.94 L991.18,677.78 L991.79,678.61 L992.40,679.44 L993.02,680.26 L993.65,681.07 L994.29,681.88 L994.94,682.68 L995.60,683.47 L996.27,684.25 L996.95,685.03 L997.64,685.80 L998.34,686.56 L999.05,687.31 L999.77,688.06 L1000.50,688.80 L1001.24,689.52 L1002.00,690.24 L1002.76,690.96 L1003.54,691.66 L1004.33,692.35 L1005.13,693.04 L1005.95,693.71 L1006.77,694.35 L1007.61,694.95 L1008.45,695.50 L1009.31,695.99 L1010.18,696.41 L1011.06,696.74 L1011.95,696.97 L1012.85,697.10 L1013.75,697.13 L1014.64,697.07 L1015.54,696.91 L1016.42,696.65 L1017.29,696.31 L1018.13,695.89 L1018.96,695.37 L1019.76,694.78 L1020.53,694.11 L1021.28,693.38 L1022.00,692.58 L1022.70,691.73 L1023.38,690.84 L1024.03,689.90 L1024.67,688.93 L1025.27,687.94 L1025.86,686.92 L1026.42,685.90 L1026.97,684.86 L1027.49,683.83 L1027.99,682.80 L1028.47,681.77 L1028.94,680.74 L1029.38,679.72 L1029.81,678.70 L1030.22,677.67 L1030.62,676.65 L1031.00,675.64 L1031.36,674.62 L1031.71,673.60 L1032.05,672.59 L1032.37,671.57 L1032.69,670.56 L1032.99,669.55 L1033.28,668.54 L1033.56,667.53 L1033.83,666.52 L1034.09,665.52 L1034.35,664.51 L1034.60,663.50 L1034.84,662.50 L1035.07,661.49 L1035.30,660.49 L1035.53,659.48 L1035.75,658.48 L1035.97,657.47 L1036.19,656.47 L1036.40,655.47 L1036.62,654.46 L1036.83,653.46 L1037.04,652.46 L1037.26,651.45 L1037.48,650.45 L1037.70,649.44 L1037.92,648.44 L1038.14,647.43 L1038.37,646.43 L1038.60,645.42 L1038.84,644.42 L1039.08,643.41 L1039.32,642.40 L1039.56,641.40 L1039.81,640.39 L1040.05,639.38 L1040.31,638.37 L1040.56,637.36 L1040.81,636.35 L1041.07,635.35 L1041.33,634.34 L1041.60,633.33 L1041.86,632.32 L1042.13,631.31 L1042.39,630.30 L1042.66,629.29 L1042.94,628.28 L1043.21,627.27 L1043.48,626.26 L1043.76,625.25 L1044.04,624.24 L1044.32,623.23 L1044.60,622.22 L1044.88,621.21 L1045.16,620.20 L1045.44,619.19 L1045.73,618.18 L1046.01,617.17 L1046.29,616.16 L1046.58,615.15 L1046.87,614.14 L1047.15,613.13 L1047.44,612.12 L1047.73,611.11 L1048.02,610.10 L1048.30,609.09 L1048.59,608.08 L1048.88,607.07 L1049.17,606.06 L1049.45,605.05 L1049.74,604.04 L1050.03,603.04 L1050.31,602.03 L1050.60,601.02 L1050.88,600.01 L1051.17,599.01 L1051.45,598.00 L1051.74,597.00 L1052.02,595.99 L1052.30,594.98 L1052.58,593.98 L1052.86,592.98 L1053.14,591.97 L1053.42,590.97 L1053.70,589.97 L1053.99,588.96 L1054.28,587.96 L1054.58,586.96 L1054.88,585.96 L1055.18,584.96 L1055.49,583.96 L1055.81,582.96 L1056.13,581.96 L1056.47,580.96 L1056.81,579.97 L1057.16,578.97 L1057.52,577.97 L1057.89,576.98 L1058.28,575.99 L1058.67,574.99 L1059.08,574.00 L1059.51,573.01 L1059.94,572.02 L1060.39,571.03 L1060.86,570.04 L1061.34,569.05 L1061.84,568.06 L1062.36,567.08 L1062.90,566.12 L1063.45,565.17 L1064.02,564.26 L1064.61,563.40 L1065.22,562.58 L1065.85,561.83 L1066.50,561.15 L1067.17,560.54 L1067.85,560.03 L1068.57,559.61 L1069.30,559.30 L1070.05,559.11 L1070.82,559.04 L1071.61,559.08 L1072.42,559.23 L1073.23,559.48 L1074.04,559.81 L1074.85,560.22 L1075.66,560.71 L1076.46,561.26 L1077.25,561.86 L1078.01,562.51 L1078.76,563.19 L1079.48,563.91 L1080.17,564.65 L1080.84,565.43 L1081.49,566.23 L1082.12,567.05 L1082.73,567.90 L1083.32,568.77 L1083.90,569.67 L1084.45,570.58 L1084.99,571.51 L1085.52,572.46 L1086.03,573.42 L1086.53,574.40 L1087.02,575.39 L1087.49,576.38 L1087.96,577.39 L1088.42,578.41 L1088.87,579.43 L1089.32,580.46 L1089.75,581.50 L1090.19,582.53 L1090.62,583.57 L1091.05,584.60 L1091.47,585.63 L1091.90,586.66 L1092.33,587.69 L1092.76,588.71 L1093.19,589.72 L1093.62,590.72 L1094.06,591.71 L1094.51,592.68 L1094.96,593.65 L1095.42,594.60 L1095.89,595.53 L1096.37,596.45 L1096.86,597.36 L1097.36,598.25 L1097.87,599.12 L1098.39,599.98 L1098.93,600.83 L1099.48,601.67 L1100.04,602.50 L1100.62,603.31 L1101.22,604.12 L1101.83,604.91 L1102.46,605.69 L1103.11,606.47 L1103.77,607.23 L1104.46,607.98 L1105.17,608.73 L1105.89,609.47 L1106.64,610.19 L1107.40,610.91 L1108.18,611.61 L1108.98,612.29 L1109.80,612.96 L1110.63,613.61 L1111.47,614.24 L1112.34,614.86 L1113.21,615.45 L1114.10,616.03 L1115.01,616.58 L1115.93,617.10 L1116.86,617.60 L1117.80,618.08 L1118.75,618.52 L1119.71,618.94 L1120.69,619.33 L1121.67,619.69 L1122.67,620.01 L1123.67,620.30 L1124.68,620.56 L1125.70,620.78 L1126.72,620.97 L1127.76,621.12 L1128.79,621.22 L1129.84,621.29 L1130.89,621.32 L1131.94,621.31 L1132.99,621.27 L1134.05,621.20 L1135.11,621.10 L1136.17,620.98 L1137.23,620.82 L1138.28,620.65 L1139.34,620.46 L1140.39,620.25 L1141.43,620.03 L1142.47,619.80 L1143.51,619.56 L1144.54,619.30 L1145.56,619.04 L1146.58,618.76 L1147.59,618.48 L1148.60,618.18 L1149.61,617.88 L1150.61,617.56 L1151.60,617.24 L1152.59,616.90 L1153.58,616.56 L1154.56,616.21 L1155.53,615.84 L1156.51,615.47 L1157.47,615.09 L1158.44,614.70 L1159.39,614.31 L1160.35,613.90 L1161.30,613.49 L1162.25,613.07 L1163.19,612.64 L1164.13,612.20 L1165.06,611.76 L1166.00,611.31 L1166.92,610.85 L1167.85,610.38 L1168.77,609.91 L1169.69,609.43 L1170.60,608.94 L1171.51,608.45 L1172.42,607.95 L1173.33,607.45 L1174.23,606.94 L1175.13,606.42 L1176.02,605.90 L1176.92,605.37 L1177.81,604.83 L1178.70,604.29 L1179.58,603.75 L1180.46,603.20 L1181.35,602.65 L1182.22,602.09 L1183.10,601.52 L1183.97,600.95 L1184.85,600.38 L1185.72,599.81 L1186.58,599.23 L1187.45,598.64 L1188.32,598.05 L1189.18,597.46 L1190.04,596.87 L1190.90,596.27 L1191.76,595.67 L1192.61,595.07 L1193.47,594.46 L1194.32,593.85 L1195.17,593.24 L1196.03,592.63 L1196.88,592.01 L1197.73,591.39 L1198.58,590.77 L1199.42,590.15 L1200.27,589.53 L1201.12,588.90 L1201.96,588.28 L1202.81,587.65 L1203.65,587.02 L1204.50,586.39 L1205.34,585.76 L1206.19,585.13 L1207.03,584.50 L1207.88,583.87 L1208.72,583.24 L1209.56,582.61 L1210.41,581.98 L1211.25,581.35 L1212.10,580.72 L1212.94,580.10 L1213.79,579.47 L1214.64,578.84 L1215.48,578.22 L1216.33,577.59 L1217.18,576.97 L1218.03,576.35 L1218.88,575.73 L1219.73,575.11 L1220.58,574.49 L1221.43,573.88 L1222.29,573.27 L1223.14,572.66 L1224.00,572.06 L1224.86,571.45 L1225.72,570.85 L1226.58,570.26 L1227.45,569.66 L1228.31,569.07 L1229.18,568.49 L1230.05,567.90 L1230.92,567.32 L1231.79,566.75 L1232.67,566.18 L1233.54,565.61 L1234.42,565.05 L1235.31,564.49 L1236.19,563.94 L1237.08,563.39 L1237.97,562.84 L1238.86,562.31 L1239.75,561.77 L1240.65,561.25 L1241.55,560.72 L1242.45,560.21 L1243.36,559.70 L1244.27,559.19 L1245.18,558.69 L1246.09,558.20 L1247.01,557.71 L1247.93,557.23 L1248.85,556.75 L1249.78,556.28 L1250.70,555.81 L1251.63,555.35 L1252.57,554.90 L1253.50,554.45 L1254.44,554.00 L1255.38,553.56 L1256.32,553.13 L1257.27,552.70 L1258.21,552.28 L1259.16,551.86 L1260.11,551.45 L1261.07,551.05 L1262.03,550.65 L1262.98,550.26 L1263.95,549.87 L1264.91,549.49 L1265.87,549.11 L1266.84,548.74 L1267.81,548.37 L1268.78,548.01 L1269.76,547.66 L1270.74,547.31 L1271.71,546.97 L1272.70,546.63 L1273.68,546.30 L1274.66,545.97 L1275.65,545.65 L1276.64,545.34 L1277.63,545.03 L1278.62,544.72 L1279.62,544.43 L1280.61,544.13 L1281.61,543.85 L1282.61,543.57 L1283.62,543.29 L1284.62,543.02 L1285.63,542.76 L1286.63,542.50 L1287.64,542.25 L1288.65,542.00 L1289.67,541.76 L1290.68,541.53 L1291.70,541.30 L1292.72,541.07 L1293.74,540.86 L1294.76,540.64 L1295.78,540.44 L1296.81,540.24 L1297.83,540.04 L1298.86,539.85 L1299.89,539.67 L1300.92,539.49 L1301.95,539.32 L1302.99,539.16 L1304.02,539.00 L1305.06,538.84 L1306.09,538.69 L1307.13,538.55 L1308.17,538.41 L1309.22,538.28 L1310.26,538.16 L1311.30,538.04 L1312.35,537.92 L1313.40,537.82 L1314.44,537.71 L1315.49,537.62 L1316.54,537.53 L1317.60,537.44 L1318.65,537.36" fill="none" stroke="#ED7D31" stroke-width="6" stroke-linecap="round"/>
<path d="M272.82,945.33 L273.90,945.42 L274.98,945.51 L276.06,945.60 L277.14,945.69 L278.21,945.77 L279.29,945.86 L280.36,945.94 L281.44,946.02 L282.52,946.09 L283.59,946.17 L284.66,946.24 L285.74,946.31 L286.81,946.38 L287.88,946.45 L288.95,946.52 L290.02,946.58 L291.09,946.64 L292.16,946.70 L293.23,946.76 L294.30,946.82 L295.37,946.87 L296.43,946.93 L297.50,946.98 L298.57,947.03 L299.63,947.08 L300.70,947.12 L301.76,947.17 L302.83,947.21 L303.89,947.25 L304.96,947.29 L306.02,947.33 L307.08,947.36 L308.15,947.40 L309.21,947.43 L310.27,947.46 L311.33,947.49 L312.39,947.51 L313.45,947.54 L314.51,947.56 L315.57,947.59 L316.63,947.61 L317.69,947.63 L318.74,947.64 L319.80,947.66 L320.86,947.67 L321.92,947.69 L322.97,947.70 L324.03,947.71 L325.09,947.71 L326.14,947.72 L327.20,947.73 L328.25,947.73 L329.31,947.73 L330.36,947.73 L331.41,947.73 L332.47,947.73 L333.52,947.72 L334.57,947.72 L335.63,947.71 L336.68,947.70 L337.73,947.69 L338.78,947.68 L339.83,947.67 L340.89,947.65 L341.94,947.64 L342.99,947.62 L344.04,947.60 L345.09,947.58 L346.14,947.56 L347.19,947.54 L348.24,947.51 L349.29,947.49 L350.34,947.46 L351.39,947.43 L352.44,947.41 L353.49,947.37 L354.53,947.34 L355.58,947.31 L356.63,947.28 L357.68,947.24 L358.73,947.20 L359.78,947.16 L360.82,947.12 L361.87,947.08 L362.92,947.04 L363.97,947.00 L365.01,946.95 L366.06,946.91 L367.11,946.86 L368.16,946.81 L369.20,946.76 L370.25,946.71 L371.30,946.66 L372.34,946.61 L373.39,946.56 L374.44,946.50 L375.48,946.44 L376.53,946.39 L377.58,946.33 L378.62,946.27 L379.67,946.21 L380.71,946.15 L381.76,946.08 L382.81,946.02 L383.85,945.96 L384.90,945.89 L385.95,945.82 L386.99,945.75 L388.04,945.69 L389.09,945.62 L390.13,945.55 L391.18,945.47 L392.23,945.40 L393.27,945.33 L394.32,945.25 L395.37,945.18 L396.41,945.10 L397.46,945.02 L398.51,944.94 L399.55,944.86 L400.60,944.78 L401.65,944.70 L402.70,944.62 L403.74,944.54 L404.79,944.45 L405.84,944.37 L406.89,944.28 L407.94,944.20 L408.99,944.11 L410.03,944.02 L411.08,943.93 L412.13,943.84 L413.18,943.75 L414.23,943.66 L415.28,943.57 L416.33,943.47 L417.38,943.38 L418.43,943.29 L419.48,943.19 L420.53,943.10 L421.58,943.00 L422.63,942.90 L423.68,942.80 L424.73,942.71 L425.78,942.61 L426.84,942.51 L427.89,942.40 L428.94,942.30 L429.99,942.20 L431.05,942.10 L432.10,941.99 L433.15,941.89 L434.21,941.79 L435.26,941.68 L436.32,941.58 L437.37,941.47 L438.43,941.36 L439.48,941.25 L440.54,941.15 L441.59,941.04 L442.65,940.93 L443.71,940.82 L444.76,940.71 L445.82,940.60 L446.88,940.48 L447.94,940.37 L449.00,940.26 L450.05,940.14 L451.11,940.03 L452.17,939.91 L453.23,939.79 L454.29,939.68 L455.35,939.56 L456.41,939.44 L457.47,939.32 L458.52,939.19 L459.58,939.07 L460.64,938.95 L461.70,938.82 L462.76,938.69 L463.82,938.57 L464.88,938.44 L465.94,938.31 L467.00,938.17 L468.06,938.04 L469.12,937.91 L470.17,937.77 L471.23,937.63 L472.29,937.50 L473.35,937.36 L474.41,937.21 L475.47,937.07 L476.52,936.93 L477.58,936.78 L478.64,936.63 L479.69,936.48 L480.75,936.33 L481.81,936.18 L482.86,936.02 L483.92,935.87 L484.97,935.71 L486.03,935.55 L487.08,935.39 L488.14,935.22 L489.19,935.06 L490.24,934.89 L491.29,934.72 L492.35,934.55 L493.40,934.38 L494.45,934.20 L495.50,934.02 L496.55,933.84 L497.60,933.66 L498.65,933.48 L499.70,933.29 L500.74,933.10 L501.79,932.91 L502.84,932.72 L503.88,932.52 L504.93,932.32 L505.97,932.12 L507.01,931.92 L508.06,931.71 L509.10,931.51 L510.14,931.30 L511.18,931.08 L512.22,930.87 L513.26,930.65 L514.30,930.43 L515.33,930.21 L516.37,929.98 L517.41,929.75 L518.44,929.52 L519.47,929.28 L520.51,929.05 L521.54,928.81 L522.57,928.57 L523.60,928.32 L524.63,928.07 L525.65,927.82 L526.68,927.56 L527.71,927.31 L528.73,927.05 L529.75,926.78 L530.78,926.52 L531.80,926.25 L532.82,925.97 L533.84,925.70 L534.85,925.42 L535.87,925.14 L536.89,924.85 L537.90,924.56 L538.91,924.27 L539.92,923.97 L540.93,923.67 L541.94,923.37 L542.95,923.06 L543.96,922.75 L544.96,922.44 L545.96,922.12 L546.97,921.80 L547.97,921.48 L548.97,921.15 L549.96,920.82 L550.96,920.48 L551.95,920.15 L552.95,919.80 L553.94,919.46 L554.93,919.11 L555.92,918.75 L556.91,918.39 L557.89,918.03 L558.88,917.67 L559.86,917.30 L560.84,916.92 L561.82,916.55 L562.80,916.16 L563.77,915.78 L564.75,915.39 L565.72,914.99 L566.69,914.60 L567.66,914.19 L568.63,913.79 L569.59,913.38 L570.56,912.96 L571.52,912.54 L572.48,912.12 L573.44,911.69 L574.39,911.26 L575.35,910.82 L576.30,910.38 L577.25,909.93 L578.20,909.48 L579.15,909.03 L580.09,908.57 L581.03,908.10 L581.97,907.63 L582.91,907.16 L583.85,906.68 L584.79,906.20 L585.72,905.71 L586.65,905.22 L587.58,904.72 L588.50,904.22 L589.43,903.71 L590.35,903.20 L591.27,902.68 L592.19,902.16 L593.10,901.64 L594.01,901.11 L594.92,900.57 L595.83,900.03 L596.73,899.49 L597.64,898.94 L598.54,898.39 L599.43,897.83 L600.33,897.26 L601.22,896.70 L602.11,896.13 L602.99,895.55 L603.88,894.97 L604.76,894.38 L605.63,893.79 L606.51,893.20 L607.38,892.60 L608.25,892.00 L609.11,891.39 L609.97,890.77 L610.83,890.16 L611.69,889.54 L612.54,888.91 L613.39,888.28 L614.23,887.64 L615.07,887.00 L615.91,886.36 L616.75,885.71 L617.58,885.06 L618.41,884.40 L619.23,883.74 L620.05,883.08 L620.87,882.41 L621.68,881.73 L622.49,881.05 L623.30,880.37 L624.10,879.68 L624.90,878.99 L625.69,878.29 L626.48,877.59 L627.27,876.89 L628.05,876.18 L628.83,875.47 L629.60,874.75 L630.37,874.03 L631.14,873.30 L631.90,872.57 L632.65,871.84 L633.41,871.10 L634.16,870.35 L634.90,869.61 L635.64,868.86 L636.37,868.10 L637.10,867.34 L637.83,866.58 L638.55,865.81 L639.27,865.04 L639.98,864.26 L640.69,863.48 L641.39,862.70 L642.09,861.91 L642.78,861.12 L643.47,860.32 L644.15,859.52 L644.83,858.72 L645.50,857.91 L646.17,857.09 L646.83,856.28 L647.49,855.46 L648.14,854.63 L648.79,853.80 L649.43,852.97 L650.07,852.14 L650.70,851.29 L651.32,850.45 L651.94,849.60 L652.56,848.75 L653.17,847.89 L653.77,847.03 L654.37,846.17 L654.96,845.30 L655.55,844.43 L656.13,843.55 L656.71,842.67 L657.28,841.79 L657.84,840.90 L658.40,840.01 L658.95,839.12 L659.50,838.22 L660.04,837.32 L660.57,836.41 L661.10,835.50 L661.62,834.59 L662.14,833.67 L662.65,832.75 L663.15,831.82 L663.65,830.89 L664.14,829.96 L664.63,829.03 L665.10,828.09 L665.58,827.14 L666.04,826.20 L666.50,825.24 L666.96,824.29 L667.40,823.33 L667.85,822.37 L668.29,821.41 L668.72,820.44 L669.14,819.48 L669.57,818.50 L669.98,817.53 L670.40,816.55 L670.80,815.57 L671.21,814.59 L671.61,813.60 L672.00,812.62 L672.39,811.63 L672.78,810.63 L673.16,809.64 L673.54,808.64 L673.91,807.65 L674.29,806.65 L674.65,805.65 L675.02,804.64 L675.38,803.64 L675.74,802.63 L676.10,801.62 L676.45,800.61 L676.80,799.60 L677.15,798.59 L677.49,797.58 L677.84,796.57 L678.18,795.55 L678.52,794.54 L678.86,793.52 L679.19,792.50 L679.53,791.48 L679.86,790.47 L680.19,789.45 L680.52,788.43 L680.85,787.41 L681.18,786.39 L681.51,785.37 L681.84,784.35 L682.16,783.33 L682.49,782.31 L682.82,781.29 L683.14,780.28 L683.47,779.26 L683.79,778.24 L684.12,777.22 L684.45,776.20 L684.77,775.19 L685.10,774.17 L685.43,773.16 L685.76,772.15 L686.09,771.13 L686.42,770.12 L686.75,769.11 L687.09,768.10 L687.42,767.10 L687.76,766.09 L688.10,765.09 L688.44,764.08 L688.78,763.08 L689.13,762.08 L689.48,761.08 L689.83,760.09 L690.18,759.10 L690.54,758.10 L690.89,757.12 L691.25,756.13 L691.62,755.14 L691.99,754.16 L692.36,753.18 L692.73,752.21 L693.11,751.23 L693.49,750.26 L693.87,749.29 L694.26,748.32 L694.65,747.36 L695.05,746.40 L695.44,745.44 L695.84,744.48 L696.25,743.52 L696.65,742.56 L697.06,741.61 L697.47,740.65 L697.89,739.70 L698.30,738.75 L698.72,737.80 L699.14,736.85 L699.57,735.91 L700.00,734.96 L700.43,734.01 L700.86,733.07 L701.29,732.12 L701.73,731.17 L702.16,730.23 L702.60,729.28 L703.04,728.34 L703.49,727.39 L703.93,726.44 L704.38,725.50 L704.83,724.55 L705.28,723.60 L705.73,722.65 L706.18,721.70 L706.64,720.75 L707.09,719.80 L707.55,718.85 L708.01,717.89 L708.47,716.94 L708.93,715.98 L709.39,715.02 L709.85,714.06 L710.32,713.09 L710.78,712.13 L711.25,711.16 L711.71,710.19 L712.18,709.22 L712.65,708.25 L713.12,707.28 L713.59,706.30 L714.06,705.33 L714.54,704.35 L715.02,703.38 L715.50,702.41 L715.99,701.44 L716.48,700.47 L716.98,699.50 L717.48,698.54 L717.98,697.58 L718.49,696.62 L719.00,695.67 L719.53,694.72 L720.05,693.78 L720.58,692.84 L721.12,691.91 L721.67,690.98 L722.23,690.06 L722.79,689.15 L723.36,688.24 L723.94,687.34 L724.52,686.45 L725.12,685.57 L725.72,684.70 L726.34,683.84 L726.96,682.98 L727.60,682.14 L728.24,681.31 L728.90,680.49 L729.56,679.68 L730.24,678.88 L730.93,678.09 L731.64,677.32 L732.35,676.56 L733.08,675.81 L733.82,675.08 L734.57,674.36 L735.34,673.66 L736.12,672.97 L736.92,672.30 L737.73,671.64 L738.55,671.00 L739.39,670.38 L740.25,669.77 L741.12,669.18 L742.01,668.61 L742.91,668.06 L743.83,667.52 L744.76,667.01 L745.70,666.52 L746.66,666.05 L747.62,665.60 L748.60,665.18 L749.59,664.78 L750.58,664.40 L751.59,664.05 L752.60,663.72 L753.62,663.42 L754.64,663.15 L755.67,662.90 L756.70,662.68 L757.74,662.50 L758.77,662.34 L759.81,662.21 L760.86,662.11 L761.90,662.05 L762.94,662.02 L763.97,662.02 L765.01,662.05 L766.04,662.12 L767.07,662.23 L768.10,662.37 L769.12,662.55 L770.13,662.76 L771.13,663.02 L772.13,663.31 L773.12,663.63 L774.11,663.98 L775.08,664.37 L776.04,664.78 L777.00,665.22 L777.94,665.69 L778.88,666.17 L779.80,666.69 L780.72,667.22 L781.62,667.77 L782.51,668.33 L783.38,668.91 L784.25,669.51 L785.10,670.12 L785.94,670.74 L786.77,671.38 L787.59,672.03 L788.39,672.69 L789.19,673.36 L789.97,674.05 L790.75,674.75 L791.51,675.46 L792.26,676.19 L793.00,676.92 L793.74,677.66 L794.46,678.42 L795.17,679.18 L795.87,679.96 L796.57,680.75 L797.25,681.54 L797.93,682.34 L798.59,683.16 L799.25,683.98 L799.90,684.81 L800.55,685.64 L801.18,686.49 L801.81,687.34 L802.43,688.20 L803.04,689.07 L803.64,689.94 L804.24,690.82 L804.83,691.71 L805.42,692.60 L805.99,693.49 L806.57,694.39 L807.13,695.30 L807.69,696.21 L808.24,697.13 L808.79,698.04 L809.34,698.97 L809.88,699.89 L810.41,700.82 L810.94,701.75 L811.46,702.69 L811.98,703.62 L812.50,704.56 L813.01,705.50 L813.52,706.44 L814.02,707.38 L814.53,708.33 L815.02,709.27 L815.52,710.22 L816.01,711.17 L816.49,712.12 L816.98,713.07 L817.46,714.02 L817.93,714.97 L818.41,715.93 L818.88,716.88 L819.34,717.84 L819.81,718.80 L820.27,719.76 L820.73,720.72 L821.18,721.68 L821.63,722.64 L822.08,723.60 L822.53,724.57 L822.97,725.53 L823.41,726.50 L823.85,727.47 L824.28,728.44 L824.72,729.41 L825.14,730.38 L825.57,731.35 L826.00,732.32 L826.42,733.29 L826.84,734.27 L827.26,735.24 L827.67,736.22 L828.08,737.19 L828.49,738.17 L828.90,739.15 L829.31,740.13 L829.71,741.11 L830.11,742.09 L830.51,743.07 L830.91,744.05 L831.31,745.03 L831.70,746.02 L832.10,747.00 L832.49,747.99 L832.88,748.97 L833.26,749.96 L833.65,750.94 L834.03,751.93 L834.42,752.91 L834.80,753.90 L835.18,754.89 L835.56,755.88 L835.93,756.87 L836.31,757.86 L836.69,758.85 L837.06,759.84 L837.43,760.83 L837.80,761.82 L838.17,762.81 L838.54,763.80 L838.91,764.79 L839.28,765.78 L839.64,766.78 L840.01,767.77 L840.38,768.76 L840.74,769.75 L841.10,770.75 L841.47,771.74 L841.83,772.73 L842.19,773.73 L842.55,774.72 L842.91,775.71 L843.27,776.71 L843.63,777.70 L843.99,778.70 L844.35,779.69 L844.71,780.68 L845.07,781.68 L845.43,782.67 L845.79,783.66 L846.15,784.66 L846.51,785.65 L846.87,786.65 L847.23,787.64 L847.58,788.63 L847.94,789.62 L848.30,790.62 L848.66,791.61 L849.02,792.60 L849.39,793.59 L849.75,794.58 L850.11,795.58 L850.47,796.57 L850.83,797.56 L851.20,798.55 L851.56,799.54 L851.93,800.53 L852.29,801.52 L852.66,802.51 L853.03,803.49 L853.40,804.48 L853.77,805.47 L854.14,806.46 L854.51,807.44 L854.88,808.43 L855.25,809.41 L855.63,810.40 L856.00,811.38 L856.38,812.37 L856.76,813.35 L857.14,814.33 L857.52,815.31 L857.90,816.29 L858.29,817.27 L858.68,818.25 L859.06,819.23 L859.45,820.21 L859.84,821.19 L860.24,822.16 L860.63,823.14 L861.03,824.11 L861.43,825.09 L861.83,826.06 L862.23,827.03 L862.63,828.00 L863.04,828.97 L863.45,829.94 L863.86,830.91 L864.27,831.88 L864.69,832.85 L865.10,833.81 L865.52,834.78 L865.95,835.74 L866.37,836.70 L866.80,837.66 L867.23,838.62 L867.66,839.58 L868.10,840.54 L868.53,841.49 L868.97,842.45 L869.42,843.40 L869.86,844.36 L870.31,845.31 L870.76,846.26 L871.22,847.21 L871.68,848.15 L872.14,849.10 L872.60,850.05 L873.07,850.99 L873.54,851.93 L874.01,852.87 L874.49,853.81 L874.97,854.75 L875.45,855.69 L875.94,856.62 L876.43,857.56 L876.93,858.49 L877.42,859.42 L877.92,860.35 L878.43,861.28 L878.94,862.20 L879.45,863.13 L879.97,864.05 L880.49,864.97 L881.01,865.89 L881.54,866.80 L882.07,867.72 L882.60,868.63 L883.14,869.55 L883.68,870.45 L884.23,871.36 L884.78,872.27 L885.33,873.17 L885.89,874.07 L886.45,874.97 L887.02,875.87 L887.58,876.76 L888.16,877.66 L888.73,878.55 L889.31,879.43 L889.90,880.32 L890.49,881.20 L891.08,882.08 L891.67,882.96 L892.27,883.83 L892.88,884.71 L893.48,885.58 L894.09,886.44 L894.71,887.31 L895.33,888.17 L895.95,889.03 L896.58,889.88 L897.21,890.73 L897.84,891.58 L898.48,892.43 L899.13,893.28 L899.77,894.12 L900.42,894.95 L901.08,895.79 L901.74,896.62 L902.40,897.45 L903.07,898.27 L903.74,899.09 L904.41,899.91 L905.09,900.73 L905.77,901.54 L906.46,902.34 L907.15,903.15 L907.84,903.95 L908.54,904.74 L909.25,905.54 L909.95,906.33 L910.67,907.11 L911.38,907.89 L912.10,908.67 L912.82,909.45 L913.55,910.22 L914.28,910.98 L915.02,911.75 L915.76,912.50 L916.50,913.26 L917.25,914.01 L918.00,914.75 L918.76,915.50 L919.52,916.23 L920.29,916.97 L921.06,917.70 L921.83,918.42 L922.61,919.14 L923.39,919.86 L924.18,920.57 L924.97,921.27 L925.76,921.98 L926.56,922.67 L927.37,923.37 L928.17,924.06 L928.99,924.74 L929.80,925.42 L930.62,926.09 L931.45,926.76 L932.28,927.42 L933.11,928.08 L933.95,928.73 L934.79,929.38 L935.64,930.02 L936.49,930.66 L937.34,931.29 L938.20,931.91 L939.07,932.53 L939.94,933.14 L940.81,933.74 L941.69,934.34 L942.57,934.92 L943.46,935.51 L944.35,936.08 L945.24,936.65 L946.14,937.21 L947.05,937.76 L947.96,938.31 L948.87,938.84 L949.79,939.37 L950.71,939.89 L951.64,940.40 L952.57,940.90 L953.51,941.40 L954.45,941.88 L955.40,942.36 L956.35,942.83 L957.30,943.28 L958.26,943.73 L959.23,944.17 L960.20,944.60 L961.17,945.02 L962.15,945.43 L963.14,945.83 L964.12,946.21 L965.12,946.59 L966.12,946.96 L967.12,947.31 L968.13,947.66 L969.14,947.99 L970.16,948.32 L971.18,948.63 L972.21,948.93 L973.24,949.22 L974.28,949.49 L975.32,949.76 L976.36,950.01 L977.42,950.25 L978.47,950.47 L979.53,950.69 L980.60,950.89 L981.66,951.07 L982.73,951.23 L983.79,951.38 L984.85,951.50 L985.92,951.61 L986.98,951.69 L988.03,951.75 L989.08,951.78 L990.13,951.79 L991.17,951.77 L992.20,951.72 L993.22,951.65 L994.23,951.54 L995.24,951.40 L996.23,951.23 L997.21,951.03 L998.18,950.79 L999.13,950.52 L1000.07,950.20 L1000.99,949.85 L1001.90,949.46 L1002.79,949.03 L1003.66,948.56 L1004.51,948.06 L1005.35,947.53 L1006.16,946.96 L1006.96,946.37 L1007.74,945.75 L1008.51,945.10 L1009.25,944.43 L1009.97,943.74 L1010.68,943.03 L1011.36,942.31 L1012.03,941.56 L1012.68,940.80 L1013.31,940.03 L1013.92,939.24 L1014.51,938.43 L1015.08,937.61 L1015.64,936.78 L1016.18,935.93 L1016.70,935.07 L1017.21,934.19 L1017.70,933.30 L1018.18,932.40 L1018.64,931.49 L1019.09,930.56 L1019.52,929.62 L1019.93,928.68 L1020.34,927.72 L1020.73,926.75 L1021.11,925.77 L1021.47,924.78 L1021.83,923.78 L1022.17,922.78 L1022.49,921.76 L1022.81,920.74 L1023.12,919.71 L1023.42,918.67 L1023.70,917.62 L1023.98,916.57 L1024.25,915.51 L1024.50,914.44 L1024.75,913.37 L1024.99,912.30 L1025.23,911.22 L1025.45,910.13 L1025.67,909.04 L1025.88,907.95 L1026.08,906.85 L1026.28,905.75 L1026.47,904.65 L1026.66,903.54 L1026.84,902.44 L1027.01,901.33 L1027.19,900.22 L1027.35,899.11 L1027.52,897.99 L1027.68,896.88 L1027.83,895.77 L1027.99,894.66 L1028.14,893.55 L1028.29,892.44 L1028.44,891.33 L1028.58,890.23 L1028.73,889.12 L1028.87,888.02 L1029.02,886.92 L1029.16,885.83 L1029.30,884.74 L1029.45,883.65 L1029.60,882.57 L1029.74,881.50 L1029.89,880.42 L1030.05,879.36 L1030.20,878.29 L1030.35,877.24 L1030.51,876.18 L1030.66,875.13 L1030.82,874.09 L1030.98,873.04 L1031.14,872.01 L1031.30,870.97 L1031.46,869.94 L1031.62,868.91 L1031.79,867.88 L1031.95,866.86 L1032.12,865.83 L1032.28,864.81 L1032.45,863.80 L1032.61,862.78 L1032.78,861.77 L1032.94,860.75 L1033.11,859.74 L1033.28,858.73 L1033.44,857.72 L1033.61,856.71 L1033.78,855.71 L1033.95,854.70 L1034.11,853.69 L1034.28,852.68 L1034.44,851.68 L1034.61,850.67 L1034.78,849.66 L1034.94,848.65 L1035.11,847.64 L1035.27,846.63 L1035.43,845.62 L1035.59,844.60 L1035.75,843.59 L1035.92,842.57 L1036.07,841.55 L1036.23,840.53 L1036.39,839.51 L1036.55,838.48 L1036.70,837.45 L1036.85,836.42 L1037.01,835.39 L1037.16,834.36 L1037.31,833.32 L1037.46,832.28 L1037.61,831.24 L1037.76,830.20 L1037.90,829.15 L1038.05,828.11 L1038.19,827.06 L1038.34,826.01 L1038.48,824.96 L1038.62,823.91 L1038.76,822.86 L1038.90,821.80 L1039.04,820.74 L1039.18,819.69 L1039.32,818.63 L1039.46,817.57 L1039.59,816.51 L1039.73,815.45 L1039.86,814.38 L1040.00,813.32 L1040.13,812.26 L1040.26,811.19 L1040.39,810.12 L1040.53,809.06 L1040.66,807.99 L1040.79,806.92 L1040.92,805.86 L1041.04,804.79 L1041.17,803.72 L1041.30,802.65 L1041.43,801.58 L1041.55,800.51 L1041.68,799.45 L1041.81,798.38 L1041.93,797.31 L1042.06,796.24 L1042.18,795.17 L1042.30,794.10 L1042.43,793.04 L1042.55,791.97 L1042.67,790.90 L1042.80,789.84 L1042.92,788.77 L1043.04,787.71 L1043.16,786.64 L1043.28,785.58 L1043.40,784.52 L1043.53,783.45 L1043.65,782.39 L1043.77,781.33 L1043.89,780.27 L1044.01,779.22 L1044.13,778.16 L1044.25,777.11 L1044.37,776.05 L1044.49,775.00 L1044.60,773.95 L1044.72,772.90 L1044.84,771.85 L1044.96,770.81 L1045.08,769.76 L1045.20,768.72 L1045.32,767.68 L1045.44,766.64 L1045.56,765.61 L1045.68,764.57 L1045.80,763.54 L1045.92,762.50 L1046.04,761.47 L1046.16,760.44 L1046.28,759.41 L1046.40,758.39 L1046.52,757.36 L1046.64,756.33 L1046.76,755.31 L1046.88,754.28 L1047.00,753.26 L1047.12,752.23 L1047.24,751.21 L1047.36,750.19 L1047.48,749.16 L1047.60,748.14 L1047.73,747.12 L1047.85,746.09 L1047.97,745.07 L1048.10,744.04 L1048.22,743.02 L1048.34,741.99 L1048.47,740.96 L1048.59,739.93 L1048.72,738.90 L1048.84,737.87 L1048.97,736.84 L1049.09,735.81 L1049.22,734.77 L1049.35,733.74 L1049.47,732.70 L1049.60,731.66 L1049.73,730.62 L1049.86,729.58 L1049.99,728.53 L1050.12,727.48 L1050.25,726.43 L1050.38,725.38 L1050.51,724.33 L1050.64,723.27 L1050.78,722.21 L1050.91,721.15 L1051.04,720.08 L1051.18,719.01 L1051.31,717.94 L1051.45,716.86 L1051.59,715.79 L1051.73,714.71 L1051.87,713.62 L1052.01,712.54 L1052.16,711.46 L1052.31,710.37 L1052.46,709.29 L1052.62,708.20 L1052.78,707.11 L1052.95,706.03 L1053.13,704.94 L1053.30,703.86 L1053.49,702.78 L1053.68,701.70 L1053.88,700.62 L1054.08,699.54 L1054.30,698.47 L1054.52,697.40 L1054.75,696.33 L1054.99,695.27 L1055.24,694.21 L1055.49,693.16 L1055.76,692.11 L1056.04,691.07 L1056.33,690.03 L1056.63,689.00 L1056.94,687.97 L1057.27,686.95 L1057.60,685.94 L1057.95,684.93 L1058.32,683.93 L1058.69,682.95 L1059.09,681.96 L1059.49,680.99 L1059.91,680.03 L1060.35,679.07 L1060.80,678.13 L1061.27,677.19 L1061.75,676.27 L1062.25,675.35 L1062.77,674.45 L1063.31,673.56 L1063.86,672.68 L1064.43,671.81 L1065.02,670.95 L1065.64,670.11 L1066.27,669.28 L1066.92,668.46 L1067.59,667.66 L1068.28,666.87 L1068.99,666.10 L1069.72,665.34 L1070.46,664.60 L1071.23,663.87 L1072.01,663.16 L1072.81,662.48 L1073.62,661.81 L1074.45,661.16 L1075.29,660.53 L1076.15,659.92 L1077.01,659.34 L1077.90,658.78 L1078.79,658.24 L1079.69,657.73 L1080.61,657.24 L1081.53,656.78 L1082.47,656.34 L1083.41,655.93 L1084.36,655.55 L1085.32,655.20 L1086.28,654.87 L1087.25,654.58 L1088.23,654.32 L1089.21,654.09 L1090.19,653.89 L1091.18,653.72 L1092.17,653.59 L1093.17,653.49 L1094.16,653.43 L1095.16,653.40 L1096.15,653.41 L1097.15,653.45 L1098.15,653.53 L1099.14,653.65 L1100.14,653.80 L1101.13,653.99 L1102.13,654.20 L1103.12,654.45 L1104.12,654.72 L1105.11,655.02 L1106.10,655.34 L1107.10,655.69 L1108.09,656.06 L1109.08,656.45 L1110.07,656.86 L1111.07,657.29 L1112.06,657.73 L1113.05,658.19 L1114.04,658.66 L1115.04,659.14 L1116.03,659.64 L1117.02,660.14 L1118.01,660.65 L1119.01,661.16 L1120.00,661.68 L1121.00,662.20 L1121.99,662.73 L1122.98,663.25 L1123.98,663.77 L1124.97,664.29 L1125.97,664.81 L1126.97,665.31 L1127.96,665.82 L1128.96,666.31 L1129.96,666.79 L1130.96,667.26 L1131.96,667.71 L1132.96,668.16 L1133.96,668.58 L1134.96,668.99 L1135.96,669.38 L1136.97,669.74 L1137.97,670.09 L1138.98,670.42 L1139.98,670.73 L1140.99,671.03 L1142.00,671.30 L1143.01,671.56 L1144.01,671.80 L1145.02,672.03 L1146.04,672.23 L1147.05,672.42 L1148.06,672.59 L1149.07,672.75 L1150.09,672.89 L1151.10,673.02 L1152.12,673.13 L1153.13,673.23 L1154.15,673.31 L1155.17,673.38 L1156.18,673.43 L1157.20,673.47 L1158.22,673.50 L1159.24,673.51 L1160.26,673.51 L1161.29,673.50 L1162.31,673.47 L1163.33,673.44 L1164.35,673.39 L1165.38,673.33 L1166.40,673.26 L1167.43,673.18 L1168.45,673.09 L1169.48,672.98 L1170.51,672.87 L1171.53,672.75 L1172.56,672.62 L1173.59,672.48 L1174.62,672.33 L1175.65,672.17 L1176.68,672.00 L1177.71,671.83 L1178.74,671.65 L1179.78,671.46 L1180.81,671.26 L1181.84,671.06 L1182.87,670.85 L1183.91,670.63 L1184.94,670.41 L1185.98,670.18 L1187.01,669.95 L1188.05,669.71 L1189.09,669.46 L1190.12,669.22 L1191.16,668.96 L1192.20,668.71 L1193.23,668.45 L1194.27,668.18 L1195.31,667.92 L1196.35,667.65 L1197.39,667.38 L1198.43,667.10 L1199.47,666.83 L1200.51,666.55 L1201.55,666.27 L1202.59,665.99 L1203.63,665.71 L1204.68,665.42 L1205.72,665.14 L1206.76,664.86 L1207.80,664.58 L1208.85,664.29 L1209.89,664.01 L1210.93,663.73 L1211.98,663.46 L1213.02,663.18 L1214.07,662.91 L1215.11,662.63 L1216.16,662.36 L1217.20,662.10 L1218.25,661.83 L1219.29,661.57 L1220.34,661.32 L1221.38,661.06 L1222.43,660.82 L1223.48,660.57 L1224.52,660.33 L1225.57,660.10 L1226.62,659.87 L1227.66,659.65 L1228.71,659.43 L1229.76,659.22 L1230.81,659.02 L1231.85,658.82 L1232.90,658.63 L1233.95,658.45 L1235.00,658.27 L1236.05,658.10 L1237.09,657.94 L1238.14,657.78 L1239.19,657.63 L1240.24,657.49 L1241.29,657.36 L1242.33,657.23 L1243.38,657.10 L1244.43,656.99 L1245.48,656.88 L1246.53,656.78 L1247.57,656.69 L1248.62,656.60 L1249.67,656.52 L1250.72,656.44 L1251.76,656.38 L1252.81,656.32 L1253.86,656.26 L1254.91,656.22 L1255.95,656.18 L1257.00,656.15 L1258.05,656.12 L1259.09,656.10 L1260.14,656.09 L1261.18,656.09 L1262.23,656.09 L1263.27,656.10 L1264.32,656.12 L1265.36,656.14 L1266.41,656.17 L1267.45,656.21 L1268.50,656.25 L1269.54,656.31 L1270.58,656.37 L1271.63,656.43 L1272.67,656.51 L1273.71,656.59 L1274.75,656.67 L1275.79,656.77 L1276.84,656.87 L1277.88,656.98 L1278.92,657.10 L1279.96,657.22 L1281.00,657.35 L1282.03,657.49 L1283.07,657.63 L1284.11,657.78 L1285.15,657.94 L1286.18,658.11 L1287.22,658.28 L1288.26,658.47 L1289.29,658.65 L1290.33,658.85 L1291.36,659.05 L1292.39,659.26 L1293.43,659.48 L1294.46,659.70 L1295.49,659.94 L1296.52,660.18 L1297.55,660.42 L1298.58,660.68 L1299.61,660.94 L1300.64,661.21 L1301.67,661.48 L1302.69,661.76 L1303.72,662.06 L1304.75,662.35 L1305.77,662.66 L1306.79,662.97 L1307.82,663.29 L1308.84,663.62 L1309.86,663.95 L1310.88,664.30 L1311.90,664.65 L1312.92,665.00" fill="none" stroke="#5B9BD5" stroke-width="6" stroke-linecap="round"/>
<circle cx="273.0" cy="947.7" r="10" fill="#ED7D31"/>
<circle cx="394.9" cy="946.2" r="10" fill="#69A1D8"/>
<circle cx="578.1" cy="938.1" r="10" fill="#A5A5A5"/>
<circle cx="644.9" cy="860.4" r="10" fill="#69A1D8"/>
<circle cx="754.8" cy="662.4" r="10" fill="#69A1D8"/>
<circle cx="732.8" cy="769.7" r="10" fill="#A5A5A5"/>
<circle cx="882.8" cy="473.7" r="10" fill="#ED7D31"/>
<circle cx="1001.3" cy="950.6" r="10" fill="#69A1D8"/>
<circle cx="1069.0" cy="557.2" r="10" fill="#ED7D31"/>
<circle cx="1153.0" cy="673.0" r="10" fill="#69A1D8"/>
<circle cx="1303.7" cy="538.6" r="10" fill="#ED7D31"/>
<circle cx="269.1" cy="320.2" r="57.5" fill="#fff"/>
<g clip-path="url(#cp0)"><rect x="211.6" y="262.7" width="115.0" height="115.0" fill="#3a3a3a" />
<rect x="211.6" y="262.7" width="115.0" height="48.3" fill="url(#g_rail_sky)" />
<ellipse cx="269.1" cy="298.3" rx="48.3" ry="2.9" fill="#c4c4c4" transform="rotate(0.0 269.1 298.3)" />
<ellipse cx="263.4" cy="305.2" rx="51.8" ry="2.3" fill="#bdbdbd" transform="rotate(0.0 263.4 305.2)" />
<ellipse cx="292.1" cy="291.4" rx="23.0" ry="3.4" fill="#8a8a8a" transform="rotate(-10.0 292.1 291.4)" />
<rect x="211.6" y="309.3" width="115.0" height="5.8" fill="#2c2c2c" />
<rect x="217.4" y="312.1" width="1.4" height="1.2" fill="#e0e0e0" />
<rect x="228.9" y="312.1" width="1.4" height="1.2" fill="#e0e0e0" />
<rect x="240.4" y="312.1" width="1.4" height="1.2" fill="#e0e0e0" />
<rect x="251.9" y="312.1" width="1.4" height="1.2" fill="#e0e0e0" />
<rect x="263.4" y="312.1" width="1.4" height="1.2" fill="#e0e0e0" />
<rect x="274.9" y="312.1" width="1.4" height="1.2" fill="#e0e0e0" />
<rect x="286.4" y="312.1" width="1.4" height="1.2" fill="#e0e0e0" />
<rect x="297.9" y="312.1" width="1.4" height="1.2" fill="#e0e0e0" />
<rect x="309.4" y="312.1" width="1.4" height="1.2" fill="#e0e0e0" />
<rect x="211.6" y="315.0" width="115.0" height="62.7" fill="#3e3e3e" />
<polygon points="274.9,314.4 326.6,314.4 326.6,323.6 280.6,322.5" fill="#b4b4b4" />
<polygon points="211.6,320.2 274.9,317.9 326.6,327.1 326.6,336.3 280.6,331.7 211.6,329.4" fill="#6e6e6e" />
<line x1="211.6" y1="325.9" x2="326.6" y2="331.7" stroke="#555555" stroke-width="1.0" />
<line x1="220.8" y1="327.1" x2="326.6" y2="338.6" stroke="#555555" stroke-width="1.0" />
<line x1="230.0" y1="328.2" x2="326.6" y2="345.5" stroke="#555555" stroke-width="1.0" />
<line x1="239.2" y1="329.4" x2="326.6" y2="352.4" stroke="#555555" stroke-width="1.0" />
<line x1="248.4" y1="330.6" x2="326.6" y2="359.3" stroke="#555555" stroke-width="1.0" />
<line x1="257.6" y1="331.7" x2="326.6" y2="366.2" stroke="#555555" stroke-width="1.0" />
<polygon points="280.6,334.0 326.6,334.0 326.6,354.7 317.4,359.3 282.9,343.2" fill="#8e8e8e" />
<polygon points="217.4,329.4 228.9,327.1 257.6,377.7 240.4,377.7" fill="#5a5a5a" />
<polygon points="227.7,336.3 240.4,331.7 269.1,369.6 269.1,377.7 255.3,377.7" fill="#bdbdbd" />
<line x1="234.6" y1="335.1" x2="262.2" y2="377.7" stroke="#9a9a9a" stroke-width="1.5" />
<polygon points="259.9,350.1 269.1,343.2 303.6,360.4 296.7,369.6 274.9,371.9" fill="#d6d6d6" />
<polygon points="296.7,369.6 303.6,360.4 326.6,366.2 326.6,377.7 303.6,377.7" fill="#f4f4f4" /></g>
<circle cx="269.1" cy="320.2" r="57.5" fill="none" stroke="#ED7D31" stroke-width="4"/>
<circle cx="393.0" cy="501.6" r="57.5" fill="#fff"/>
<g clip-path="url(#cp1)"><rect x="335.5" y="444.1" width="115.0" height="115.0" fill="#bcbcbc" />
<rect x="335.5" y="444.1" width="115.0" height="18.4" fill="#7e7e7e" />
<rect x="370.0" y="444.1" width="16.1" height="23.0" fill="#4a4a4a" />
<rect x="402.2" y="448.7" width="11.5" height="18.4" fill="#555555" />
<rect x="335.5" y="464.8" width="115.0" height="4.6" fill="#d8d8d8" />
<rect x="335.5" y="471.7" width="115.0" height="5.8" fill="#8c8c8c" />
<rect x="335.5" y="479.8" width="115.0" height="3.4" fill="#d0d0d0" />
<rect x="335.5" y="485.5" width="115.0" height="5.8" fill="#7a7a7a" />
<rect x="335.5" y="493.6" width="115.0" height="3.4" fill="#9a9a9a" />
<line x1="344.7" y1="449.9" x2="345.9" y2="553.4" stroke="#666666" stroke-width="1.0" />
<line x1="350.4" y1="449.9" x2="351.6" y2="553.4" stroke="#4a4a4a" stroke-width="1.0" />
<line x1="366.6" y1="449.9" x2="367.7" y2="553.4" stroke="#666666" stroke-width="1.0" />
<line x1="373.4" y1="449.9" x2="374.6" y2="553.4" stroke="#4a4a4a" stroke-width="1.0" />
<line x1="381.5" y1="449.9" x2="382.6" y2="553.4" stroke="#666666" stroke-width="1.0" />
<line x1="388.4" y1="449.9" x2="389.6" y2="553.4" stroke="#4a4a4a" stroke-width="1.0" />
<line x1="395.3" y1="449.9" x2="396.4" y2="553.4" stroke="#666666" stroke-width="1.0" />
<line x1="402.2" y1="449.9" x2="403.4" y2="553.4" stroke="#4a4a4a" stroke-width="1.0" />
<line x1="409.1" y1="449.9" x2="410.2" y2="553.4" stroke="#666666" stroke-width="1.0" />
<line x1="416.0" y1="449.9" x2="417.1" y2="553.4" stroke="#4a4a4a" stroke-width="1.0" />
<line x1="430.9" y1="449.9" x2="432.1" y2="553.4" stroke="#666666" stroke-width="1.0" />
<line x1="436.7" y1="449.9" x2="437.9" y2="553.4" stroke="#4a4a4a" stroke-width="1.0" />
<line x1="443.6" y1="449.9" x2="444.8" y2="553.4" stroke="#666666" stroke-width="1.0" />
<rect x="356.2" y="446.4" width="5.2" height="112.7" fill="#ececec" />
<rect x="422.9" y="449.9" width="3.4" height="109.2" fill="#e4e4e4" />
<rect x="367.7" y="501.6" width="18.4" height="20.7" fill="#d6d6d6" />
<ellipse cx="375.8" cy="526.9" rx="6.9" ry="5.8" fill="#5a5a5a" transform="rotate(0.0 375.8 526.9)" />
<rect x="398.8" y="499.3" width="20.7" height="29.9" fill="#7a7a7a" />
<rect x="429.8" y="495.9" width="20.7" height="46.0" fill="#9a9a9a" />
<rect x="379.2" y="529.2" width="34.5" height="29.9" fill="#5e5e5e" />
<rect x="387.2" y="533.8" width="6.9" height="25.3" fill="#a8a8a8" />
<rect x="335.5" y="536.1" width="43.7" height="23.0" fill="#c6c6c6" />
<rect x="416.0" y="538.4" width="34.5" height="20.7" fill="#8e8e8e" /></g>
<circle cx="393.0" cy="501.6" r="57.5" fill="none" stroke="#5B9BD5" stroke-width="4"/>
<circle cx="524.3" cy="358.8" r="57.5" fill="#fff"/>
<g clip-path="url(#cp2)"><rect x="466.8" y="301.3" width="115.0" height="115.0" fill="#e2e2e2" />
<rect x="466.8" y="301.3" width="115.0" height="34.5" fill="#ededed" />
<polygon points="492.1,324.3 501.3,319.7 510.5,312.8 517.4,307.1 524.3,312.8 531.2,305.9 538.1,312.8 549.6,315.1 564.5,326.6 558.8,332.4 495.5,332.4" fill="#6e6e6e" />
<rect x="501.3" y="324.3" width="48.3" height="11.5" fill="#5a5a5a" />
<polygon points="466.8,335.8 478.3,331.2 507.0,335.8 530.0,345.0 530.0,353.1 466.8,353.1" fill="#707070" />
<polygon points="530.0,345.0 553.0,339.2 570.3,342.7 581.8,347.3 581.8,356.5 530.0,356.5" fill="#747474" />
<rect x="508.2" y="335.8" width="29.9" height="13.8" fill="#4e4e4e" />
<rect x="466.8" y="351.9" width="115.0" height="6.9" fill="#8a8a8a" />
<rect x="466.8" y="358.8" width="115.0" height="34.5" fill="#4c4c4c" />
<rect x="486.3" y="356.5" width="4.0" height="39.1" fill="#a0a0a0" />
<rect x="512.8" y="358.8" width="3.4" height="34.5" fill="#8a8a8a" />
<rect x="538.1" y="356.5" width="4.0" height="39.1" fill="#9a9a9a" />
<rect x="561.1" y="356.5" width="3.4" height="34.5" fill="#8a8a8a" />
<rect x="493.2" y="361.1" width="16.1" height="28.8" fill="#3e3e3e" />
<rect x="545.0" y="361.1" width="13.8" height="28.8" fill="#3e3e3e" />
<rect x="504.7" y="368.0" width="2.3" height="9.2" fill="#d0d0d0" />
<rect x="466.8" y="393.3" width="115.0" height="23.0" fill="#a6a6a6" />
<rect x="466.8" y="393.3" width="115.0" height="3.4" fill="#7a7a7a" /></g>
<circle cx="524.3" cy="358.8" r="57.5" fill="none" stroke="#A5A5A5" stroke-width="4"/>
<circle cx="651.7" cy="624.7" r="57.5" fill="#fff"/>
<g clip-path="url(#cp3)"><rect x="594.2" y="567.2" width="115.0" height="115.0" fill="#e6e8c4" />
<rect x="594.2" y="567.2" width="115.0" height="57.5" fill="url(#g_color_top)" />
<line x1="663.2" y1="620.1" x2="582.7" y2="561.5" stroke="#c8a868" stroke-width="1.1" />
<line x1="663.2" y1="620.1" x2="600.0" y2="561.5" stroke="#c8a868" stroke-width="1.1" />
<line x1="663.2" y1="620.1" x2="617.2" y2="561.5" stroke="#c8a868" stroke-width="1.1" />
<line x1="663.2" y1="620.1" x2="634.5" y2="561.5" stroke="#c8a868" stroke-width="1.1" />
<line x1="663.2" y1="620.1" x2="651.7" y2="561.5" stroke="#c8a868" stroke-width="1.1" />
<line x1="663.2" y1="620.1" x2="669.0" y2="561.5" stroke="#c8a868" stroke-width="1.1" />
<line x1="663.2" y1="620.1" x2="686.2" y2="561.5" stroke="#c8a868" stroke-width="1.1" />
<line x1="663.2" y1="620.1" x2="703.5" y2="561.5" stroke="#c8a868" stroke-width="1.1" />
<line x1="663.2" y1="620.1" x2="720.7" y2="561.5" stroke="#c8a868" stroke-width="1.1" />
<line x1="594.2" y1="586.8" x2="709.2" y2="577.6" stroke="#b8c0b4" stroke-width="0.8" />
<line x1="594.2" y1="598.2" x2="709.2" y2="589.1" stroke="#b8c0b4" stroke-width="0.8" />
<line x1="594.2" y1="609.8" x2="709.2" y2="600.6" stroke="#b8c0b4" stroke-width="0.8" />
<rect x="594.2" y="617.8" width="115.0" height="18.4" fill="#ccd2bc" />
<rect x="658.6" y="573.0" width="2.3" height="63.3" fill="#f0f0e8" />
<rect x="640.2" y="601.7" width="1.7" height="34.5" fill="#e8e8e0" />
<rect x="648.2" y="601.7" width="1.7" height="34.5" fill="#e8e8e0" />
<rect x="610.3" y="615.5" width="18.4" height="12.7" fill="#e6c866" />
<rect x="596.5" y="624.7" width="23.0" height="32.2" fill="#a8a894" />
<rect x="603.4" y="627.0" width="4.6" height="25.3" fill="#e8e8e0" />
<rect x="594.2" y="652.3" width="36.8" height="29.9" fill="#dcc474" />
<rect x="625.2" y="631.6" width="32.2" height="41.4" fill="#a9b2aa" />
<rect x="628.7" y="636.2" width="25.3" height="13.8" fill="#8e988f" />
<ellipse cx="637.9" cy="643.1" rx="5.8" ry="6.9" fill="#6a6a60" transform="rotate(0.0 637.9 643.1)" />
<ellipse cx="662.1" cy="645.4" rx="8.6" ry="20.7" fill="#2c2c28" transform="rotate(0.0 662.1 645.4)" />
<ellipse cx="662.1" cy="645.4" rx="4.0" ry="11.5" fill="#5a5a50" transform="rotate(0.0 662.1 645.4)" />
<rect x="670.1" y="624.7" width="39.1" height="41.4" fill="#6e6e5e" />
<ellipse cx="677.0" cy="628.2" rx="6.9" ry="6.9" fill="#c8b458" transform="rotate(0.0 677.0 628.2)" />
<rect x="672.4" y="636.2" width="34.5" height="9.2" fill="#d8d8cc" />
<rect x="697.7" y="592.5" width="11.5" height="28.8" fill="#8c4e2e" />
<rect x="628.7" y="668.4" width="80.5" height="13.8" fill="#7a8276" />
<polygon points="637.9,668.4 646.0,661.5 654.0,670.7 646.0,682.2" fill="#2e2e2a" /></g>
<circle cx="651.7" cy="624.7" r="57.5" fill="none" stroke="#5B9BD5" stroke-width="4"/>
<circle cx="748.7" cy="331.3" r="57.5" fill="#fff"/>
<g clip-path="url(#cp4)"><rect x="691.2" y="273.8" width="115.0" height="115.0" fill="#6e6e6e" />
<rect x="691.2" y="273.8" width="115.0" height="25.3" fill="#a4a4a4" />
<rect x="691.2" y="299.1" width="115.0" height="13.8" fill="#858585" />
<polygon points="691.2,306.0 806.2,291.1 806.2,299.1 691.2,315.2" fill="#5e5e5e" />
<polygon points="708.5,310.6 743.0,306.0 774.0,311.8 771.7,325.6 714.2,329.0" fill="#4a4a4a" />
<polygon points="697.0,337.1 754.5,322.1 800.5,325.6 797.0,345.1 754.5,360.1 702.7,356.6" fill="#505050" />
<polygon points="723.4,342.8 751.0,329.0 760.2,356.6 737.2,365.8" fill="#c6c6be" />
<polygon points="748.7,331.3 762.5,325.6 777.5,329.0 774.0,352.0 760.2,356.6" fill="#9a9a94" />
<rect x="691.2" y="345.1" width="34.5" height="18.4" fill="#3a3a3a" />
<rect x="789.0" y="314.1" width="17.2" height="40.2" fill="#777" />
<rect x="691.2" y="365.8" width="115.0" height="23.0" fill="#5e5e5e" />
<rect x="760.2" y="356.6" width="25.3" height="13.8" fill="#9a9a9a" />
<line x1="702.7" y1="375.0" x2="760.2" y2="363.5" stroke="#8a8a8a" stroke-width="1.5" /></g>
<circle cx="748.7" cy="331.3" r="57.5" fill="none" stroke="#5B9BD5" stroke-width="4"/>
<circle cx="769.3" cy="911.7" r="57.5" fill="#fff"/>
<g clip-path="url(#cp5)"><rect x="711.8" y="854.2" width="115.0" height="115.0" fill="#b0a590" />
<rect x="711.8" y="854.2" width="115.0" height="13.8" fill="#b8ad96" />
<polygon points="744.0,888.7 769.3,879.5 783.1,879.5 806.1,871.5 813.0,879.5 771.6,900.2 750.9,900.2" fill="#d6cab0" />
<polygon points="763.5,917.5 783.1,909.4 799.2,914.0 817.6,929.0 815.3,943.9 780.8,948.5 771.6,932.4" fill="#dbceb4" />
<rect x="711.8" y="886.4" width="6.9" height="23.0" fill="#d2c6ab" />
<polygon points="815.3,874.9 826.8,877.2 826.8,946.2 822.2,946.2" fill="#cdc1a6" />
<rect x="757.8" y="858.8" width="34.5" height="6.9" fill="#c1b69e" />
<rect x="752.0" y="960.0" width="40.2" height="9.2" fill="#b7ab93" />
<line x1="772.8" y1="891.0" x2="787.7" y2="885.2" stroke="#333" stroke-width="1.2" />
<line x1="780.8" y1="931.2" x2="801.5" y2="931.2" stroke="#333" stroke-width="1.2" /></g>
<circle cx="769.3" cy="911.7" r="57.5" fill="none" stroke="#A5A5A5" stroke-width="4"/>
<circle cx="878.2" cy="395.7" r="57.5" fill="#fff"/>
<g clip-path="url(#cp6)"><rect x="820.7" y="338.2" width="115.0" height="115.0" fill="#e2e0dc" />
<rect x="849.5" y="338.2" width="16.1" height="63.3" fill="#403c38" />
<polygon points="843.7,372.7 878.2,361.2 884.0,366.9 855.2,381.9" fill="#4a4642" />
<rect x="864.4" y="358.9" width="16.1" height="34.5" fill="#5a5652" />
<polygon points="820.7,372.7 832.2,366.9 869.0,376.1 872.5,395.7 820.7,398.0" fill="#5e5a55" />
<rect x="820.7" y="395.7" width="48.3" height="34.5" fill="#6a665f" />
<rect x="826.5" y="401.4" width="9.2" height="11.5" fill="#c8c4be" />
<rect x="869.0" y="384.2" width="16.1" height="23.0" fill="#c6c2bc" />
<rect x="887.4" y="375.0" width="2.9" height="28.8" fill="#6a6660" />
<rect x="861.0" y="395.7" width="74.8" height="5.8" fill="#7c7872" />
<rect x="866.7" y="401.4" width="69.0" height="13.8" fill="#9c9892" />
<polygon points="820.7,424.4 878.2,409.5 935.7,409.5 935.7,453.2 820.7,453.2" fill="#5c5954" />
<polygon points="855.2,453.2 884.0,421.0 918.5,416.4 907.0,453.2" fill="#aaa6a0" />
<line x1="861.0" y1="453.2" x2="887.4" y2="418.7" stroke="#7a7670" stroke-width="1.0" />
<line x1="870.2" y1="453.2" x2="894.3" y2="418.7" stroke="#7a7670" stroke-width="1.0" />
<line x1="879.4" y1="453.2" x2="901.2" y2="418.7" stroke="#7a7670" stroke-width="1.0" />
<line x1="888.6" y1="453.2" x2="908.1" y2="418.7" stroke="#7a7670" stroke-width="1.0" />
<line x1="897.8" y1="453.2" x2="915.0" y2="418.7" stroke="#7a7670" stroke-width="1.0" />
<rect x="820.7" y="427.9" width="40.2" height="25.3" fill="#3e3b37" /></g>
<circle cx="878.2" cy="395.7" r="57.5" fill="none" stroke="#ED7D31" stroke-width="4"/>
<circle cx="992.6" cy="262.9" r="57.5" fill="#fff"/>
<g clip-path="url(#cp7)"><rect x="935.1" y="205.4" width="115.0" height="115.0" fill="url(#g_poster_sky)" />
<rect x="935.1" y="205.4" width="115.0" height="4.6" fill="#c23a2a" />
<rect x="935.1" y="210.0" width="115.0" height="1.7" fill="#d8c8a0" />
<ellipse cx="969.6" cy="228.4" rx="32.2" ry="4.0" fill="#9a9a88" transform="rotate(-8.0 969.6 228.4)" />
<ellipse cx="960.4" cy="235.3" rx="20.7" ry="2.9" fill="#b0aa90" transform="rotate(-5.0 960.4 235.3)" />
<rect x="938.6" y="243.3" width="19.6" height="34.5" fill="#b4ad9a" />
<rect x="940.9" y="245.6" width="2.1" height="31.1" fill="#ddd8c8" />
<rect x="945.5" y="245.6" width="2.1" height="31.1" fill="#ddd8c8" />
<rect x="950.1" y="245.6" width="2.1" height="31.1" fill="#ddd8c8" />
<rect x="954.6" y="245.6" width="2.1" height="31.1" fill="#ddd8c8" />
<polygon points="960.4,276.7 969.6,242.2 976.5,239.9 985.7,257.1 992.6,276.7" fill="#bc9e78" />
<polygon points="976.5,276.7 983.4,245.6 992.6,246.8 1004.1,276.7" fill="#c4a27a" />
<ellipse cx="978.8" cy="272.1" rx="11.5" ry="5.8" fill="#c8bca4" transform="rotate(0.0 978.8 272.1)" />
<ellipse cx="998.4" cy="274.4" rx="10.3" ry="5.8" fill="#c0b6a0" transform="rotate(0.0 998.4 274.4)" />
<ellipse cx="1017.9" cy="265.2" rx="13.8" ry="3.4" fill="#e4dcc8" transform="rotate(0.0 1017.9 265.2)" />
<rect x="935.1" y="274.4" width="32.2" height="9.2" fill="#c0704e" />
<polygon points="1004.1,276.7 1050.1,265.2 1050.1,283.6 1004.1,283.6" fill="#c89870" />
<line x1="1006.4" y1="279.0" x2="1050.1" y2="268.6" stroke="#8a6a50" stroke-width="1.0" />
<rect x="935.1" y="283.3" width="115.0" height="2.3" fill="#e4d0a8" />
<rect x="935.1" y="285.6" width="115.0" height="34.8" fill="#c8402c" />
<text x="979.6" y="306.4" font-size="15" fill="#f2e4c8" font-weight="bold" text-anchor="middle" textLength="106" lengthAdjust="spacingAndGlyphs">第一個五年計劃</text>
<rect x="963.9" y="311.2" width="57.5" height="1.4" fill="#e0b8a0" />
<rect x="981.1" y="315.8" width="17.2" height="1.4" fill="#e0b8a0" /></g>
<circle cx="992.6" cy="262.9" r="57.5" fill="none" stroke="#5B9BD5" stroke-width="4"/>
<circle cx="1069.6" cy="450.7" r="57.5" fill="#fff"/>
<g clip-path="url(#cp8)"><rect x="1012.1" y="393.2" width="115.0" height="115.0" fill="#d6d6ce" />
<rect x="1012.1" y="393.2" width="115.0" height="28.8" fill="#dcdcd4" />
<polygon points="1044.3,432.3 1051.2,423.1 1058.1,420.8 1065.0,424.2 1069.6,418.5 1076.5,421.9 1081.1,416.2 1083.4,402.4 1088.0,395.5 1092.6,404.7 1097.2,396.6 1100.6,407.0 1099.5,416.2 1106.4,416.2 1113.3,420.8 1119.0,427.7 1127.1,434.6 1127.1,464.5 1044.3,464.5" fill="#3c3c38" />
<polygon points="1063.8,427.7 1071.9,425.4 1076.5,444.9 1067.3,450.7" fill="#5e5e58" />
<polygon points="1092.6,421.9 1104.1,420.8 1111.0,444.9 1094.9,450.7" fill="#6a6a64" />
<polygon points="1111.0,425.4 1122.5,427.7 1127.1,450.7 1115.6,456.4" fill="#8a8a82" />
<polygon points="1012.1,418.5 1021.3,413.9 1032.8,420.8 1044.3,439.2 1046.6,473.7 1012.1,482.9" fill="#232321" />
<line x1="1025.9" y1="416.2" x2="1035.1" y2="462.2" stroke="#55554f" stroke-width="1.5" />
<line x1="1031.6" y1="413.9" x2="1039.7" y2="456.4" stroke="#55554f" stroke-width="1.5" />
<ellipse cx="1023.6" cy="441.5" rx="8.1" ry="5.8" fill="#8e8e88" transform="rotate(0.0 1023.6 441.5)" />
<ellipse cx="1023.6" cy="441.5" rx="4.6" ry="3.4" fill="#232321" transform="rotate(0.0 1023.6 441.5)" />
<rect x="1012.1" y="459.9" width="115.0" height="48.3" fill="#20201d" />
<polygon points="1025.9,482.9 1063.8,462.2 1121.3,453.0 1123.6,462.2 1069.6,471.4 1035.1,490.9" fill="#8c8c84" />
<polygon points="1052.3,479.4 1092.6,465.6 1121.3,464.5 1121.3,471.4 1092.6,473.7 1060.4,485.2" fill="#5c5c56" />
<line x1="1075.3" y1="471.4" x2="1109.8" y2="505.9" stroke="#6a6a64" stroke-width="2.0" />
<line x1="1101.8" y1="471.4" x2="1075.3" y2="505.9" stroke="#6a6a64" stroke-width="2.0" />
<line x1="1058.1" y1="485.2" x2="1058.1" y2="508.2" stroke="#5a5a54" stroke-width="2.0" />
<line x1="1012.1" y1="496.7" x2="1127.1" y2="494.4" stroke="#3a3a36" stroke-width="2.0" /></g>
<circle cx="1069.6" cy="450.7" r="57.5" fill="none" stroke="#ED7D31" stroke-width="4"/>
<circle cx="1146.7" cy="913.0" r="57.5" fill="#fff"/>
<g clip-path="url(#cp9)"><rect x="1089.2" y="855.5" width="115.0" height="115.0" fill="#1a1a1a" />
<rect x="1089.2" y="855.5" width="115.0" height="21.9" fill="#dedede" />
<rect x="1143.2" y="855.5" width="18.4" height="23.0" fill="#151515" />
<polygon points="1103.0,878.5 1109.9,862.4 1116.8,857.8 1123.7,864.7 1127.2,878.5" fill="#2e2e2e" />
<polygon points="1164.0,878.5 1169.7,861.2 1178.9,855.5 1188.1,862.4 1192.7,878.5" fill="#3c3c3c" />
<rect x="1089.2" y="869.3" width="13.8" height="9.2" fill="#8a8a8a" />
<rect x="1089.2" y="876.2" width="115.0" height="40.2" fill="#121212" />
<text x="1146.7" y="894.0" font-size="15.0" fill="#fafafa" font-weight="bold" text-anchor="middle" letter-spacing="1.6">時間就是金錢</text>
<text x="1146.7" y="911.3" font-size="15.0" fill="#fafafa" font-weight="bold" text-anchor="middle" letter-spacing="1.6">效率就是生命</text>
<rect x="1089.2" y="916.5" width="115.0" height="31.1" fill="#2a2a2a" />
<line x1="1098.4" y1="919.9" x2="1103.0" y2="945.2" stroke="#6a6a6a" stroke-width="0.8" />
<line x1="1109.9" y1="924.5" x2="1114.5" y2="945.2" stroke="#6a6a6a" stroke-width="0.8" />
<line x1="1121.4" y1="929.1" x2="1126.0" y2="945.2" stroke="#6a6a6a" stroke-width="0.8" />
<line x1="1132.9" y1="919.9" x2="1137.5" y2="945.2" stroke="#6a6a6a" stroke-width="0.8" />
<line x1="1144.4" y1="924.5" x2="1149.0" y2="945.2" stroke="#6a6a6a" stroke-width="0.8" />
<line x1="1155.9" y1="929.1" x2="1160.5" y2="945.2" stroke="#6a6a6a" stroke-width="0.8" />
<line x1="1167.4" y1="919.9" x2="1172.0" y2="945.2" stroke="#6a6a6a" stroke-width="0.8" />
<line x1="1178.9" y1="924.5" x2="1183.5" y2="945.2" stroke="#6a6a6a" stroke-width="0.8" />
<line x1="1190.4" y1="929.1" x2="1195.0" y2="945.2" stroke="#6a6a6a" stroke-width="0.8" />
<ellipse cx="1129.5" cy="926.8" rx="9.2" ry="4.6" fill="#555555" transform="rotate(0.0 1129.5 926.8)" />
<ellipse cx="1172.0" cy="936.0" rx="11.5" ry="5.8" fill="#4a4a4a" transform="rotate(0.0 1172.0 936.0)" />
<rect x="1089.2" y="947.5" width="115.0" height="23.0" fill="#d2d2d2" />
<rect x="1089.2" y="947.5" width="115.0" height="3.4" fill="#efefef" />
<rect x="1089.2" y="959.0" width="115.0" height="11.5" fill="#c4c4c4" /></g>
<circle cx="1146.7" cy="913.0" r="57.5" fill="none" stroke="#5B9BD5" stroke-width="4"/>
<circle cx="1307.1" cy="448.5" r="57.5" fill="#fff"/>
<g clip-path="url(#cp10)"><rect x="1249.6" y="391.0" width="115.0" height="115.0" fill="#2a2930" />
<rect x="1249.6" y="391.0" width="115.0" height="34.5" fill="#1c1b20" />
<rect x="1286.4" y="391.0" width="16.1" height="71.3" fill="#45464e" />
<polygon points="1272.6,414.0 1341.6,396.8 1347.3,402.5 1278.3,420.9" fill="#3a3a42" />
<rect x="1307.1" y="425.5" width="46.0" height="63.3" fill="#444452" />
<rect x="1312.8" y="425.5" width="34.5" height="6.9" fill="#5a5a62" />
<rect x="1249.6" y="439.3" width="40.2" height="46.0" fill="#35343a" />
<polygon points="1266.8,480.7 1318.6,466.9 1320.9,473.8 1272.6,489.9" fill="#6a6a70" />
<rect x="1249.6" y="492.2" width="115.0" height="13.8" fill="#8a8276" />
<line x1="1251.9" y1="464.6" x2="1325.5" y2="456.6" stroke="#e8c21c" stroke-width="2.2" />
<line x1="1255.3" y1="478.4" x2="1325.5" y2="471.5" stroke="#e8c21c" stroke-width="2.0" />
<line x1="1264.5" y1="463.8" x2="1264.5" y2="496.8" stroke="#e8c21c" stroke-width="1.8" />
<line x1="1281.8" y1="462.1" x2="1281.8" y2="496.8" stroke="#e8c21c" stroke-width="1.8" />
<line x1="1300.2" y1="460.2" x2="1300.2" y2="496.8" stroke="#e8c21c" stroke-width="1.8" />
<line x1="1324.9" y1="457.8" x2="1324.9" y2="496.8" stroke="#e8c21c" stroke-width="1.8" />
<line x1="1348.5" y1="454.2" x2="1364.6" y2="454.2" stroke="#e8c21c" stroke-width="2.0" />
<line x1="1349.6" y1="454.2" x2="1349.6" y2="488.8" stroke="#e8c21c" stroke-width="1.8" />
<polygon points="1325.5,434.7 1339.3,438.1 1337.0,448.5 1330.1,445.1" fill="#dc2c22" />
<polygon points="1339.3,435.9 1348.5,434.7 1353.1,442.8 1353.1,488.8 1343.9,492.2 1341.6,448.5" fill="#e6e4de" /></g>
<circle cx="1307.1" cy="448.5" r="57.5" fill="none" stroke="#ED7D31" stroke-width="4"/>
<line x1="486" y1="1041.6" x2="517" y2="1041.6" stroke="#5B9BD5" stroke-width="5.2" stroke-linecap="round"/>
<line x1="680.5" y1="1041.6" x2="710.5" y2="1041.6" stroke="#ED7D31" stroke-width="5.2" stroke-linecap="round"/>
<line x1="873" y1="1041.6" x2="906" y2="1041.6" stroke="#A5A5A5" stroke-width="2.5"/>
<line x1="210" y1="1064.5" x2="1366" y2="1064.5" stroke="#e6e6e6" stroke-width="1"/>
</svg>
<div class="a" style="left:153px;top:265.8px;font-size:11px;line-height:14px;color:#222;-webkit-text-stroke:0.1px #222;">发展<br>趋势</div>
<div class="yr" style="left:250.7px">1840</div>
<div class="yr" style="left:312.2px">1850</div>
<div class="yr" style="left:373.7px">1860</div>
<div class="yr" style="left:435.2px">1870</div>
<div class="yr" style="left:496.7px">1880</div>
<div class="yr" style="left:558.2px">1890</div>
<div class="yr" style="left:619.7px">1900</div>
<div class="yr" style="left:681.2px">1910</div>
<div class="yr" style="left:742.7px">1920</div>
<div class="yr" style="left:804.2px">1930</div>
<div class="yr" style="left:865.7px">1940</div>
<div class="yr" style="left:927.2px">1950</div>
<div class="yr" style="left:988.7px">1950</div>
<div class="yr" style="left:1050.2px">1960</div>
<div class="yr" style="left:1111.7px">1970</div>
<div class="yr" style="left:1173.2px">1980</div>
<div class="yr" style="left:1234.7px">1990</div>
<div class="yr" style="left:1296.2px">2000</div>
<div class="a" style="left:1387.5px;top:1000px;font-size:11px;line-height:16px;color:#333;">年</div>
<div class="a" style="left:522px;top:1032px;font-size:13.8px;line-height:20px;color:#595959;">中国近现代工业发展趋势</div>
<div class="a" style="left:715.5px;top:1032px;font-size:13.8px;line-height:20px;color:#595959;">沈阳近现代工业发展趋势</div>
<div class="a" style="left:909px;top:1032px;font-size:13.8px;line-height:20px;color:#595959;">大东区近现代工业发展趋势</div>
<div class="a" style="left:1490px;top:1048.5px;font-family:'Liberation Serif',serif;font-weight:bold;font-size:14px;line-height:18px;color:#111;">7</div>
<div class="lbl" style="left:156.5px;top:216.9px;color:#E97B32">鸦片战争之后：<br>外国资本对沈阳投资</div>
<div class="lbl" style="left:277.4px;top:399.7px;color:#5B9BD5">洋务运动：<br>国内民族工业萌芽</div>
<div class="lbl" style="left:409.9px;top:255.3px;color:#A0A0A0">奉天机器局设立：<br>大东区机械工业的开端</div>
<div class="lbl" style="left:539.4px;top:482.9px;color:#5B9BD5">学习西方<br>工业技术：<br>国内早期民族工业<br>快速发展</div>
<div class="lbl" style="left:630.9px;top:226.2px;color:#5B9BD5">一战后：<br>民族工业凋零</div>
<div class="lbl" style="left:654.8px;top:811.8px;color:#A0A0A0">设立大东<br>工业区</div>
<div class="lbl" style="left:757.4px;top:293.0px;color:#E97B32">抗日战争：<br>沈阳工业凋零</div>
<div class="lbl" style="left:877.0px;top:163.8px;color:#5B9BD5">一五计划：<br>国内重工业高速发展</div>
<div class="lbl" style="left:951.2px;top:347.1px;color:#E97B32">动荡时期：<br>沈阳工业发展缓慢</div>
<div class="lbl" style="left:989.8px;top:794.5px;color:#5B9BD5">改革开放：<br>适当调整<br>产业比重</div>
<div class="lbl" style="left:1184.6px;top:344.1px;color:#E97B32">稳定时期：<br>沈阳工业迅猛发展</div>
</body></html>
